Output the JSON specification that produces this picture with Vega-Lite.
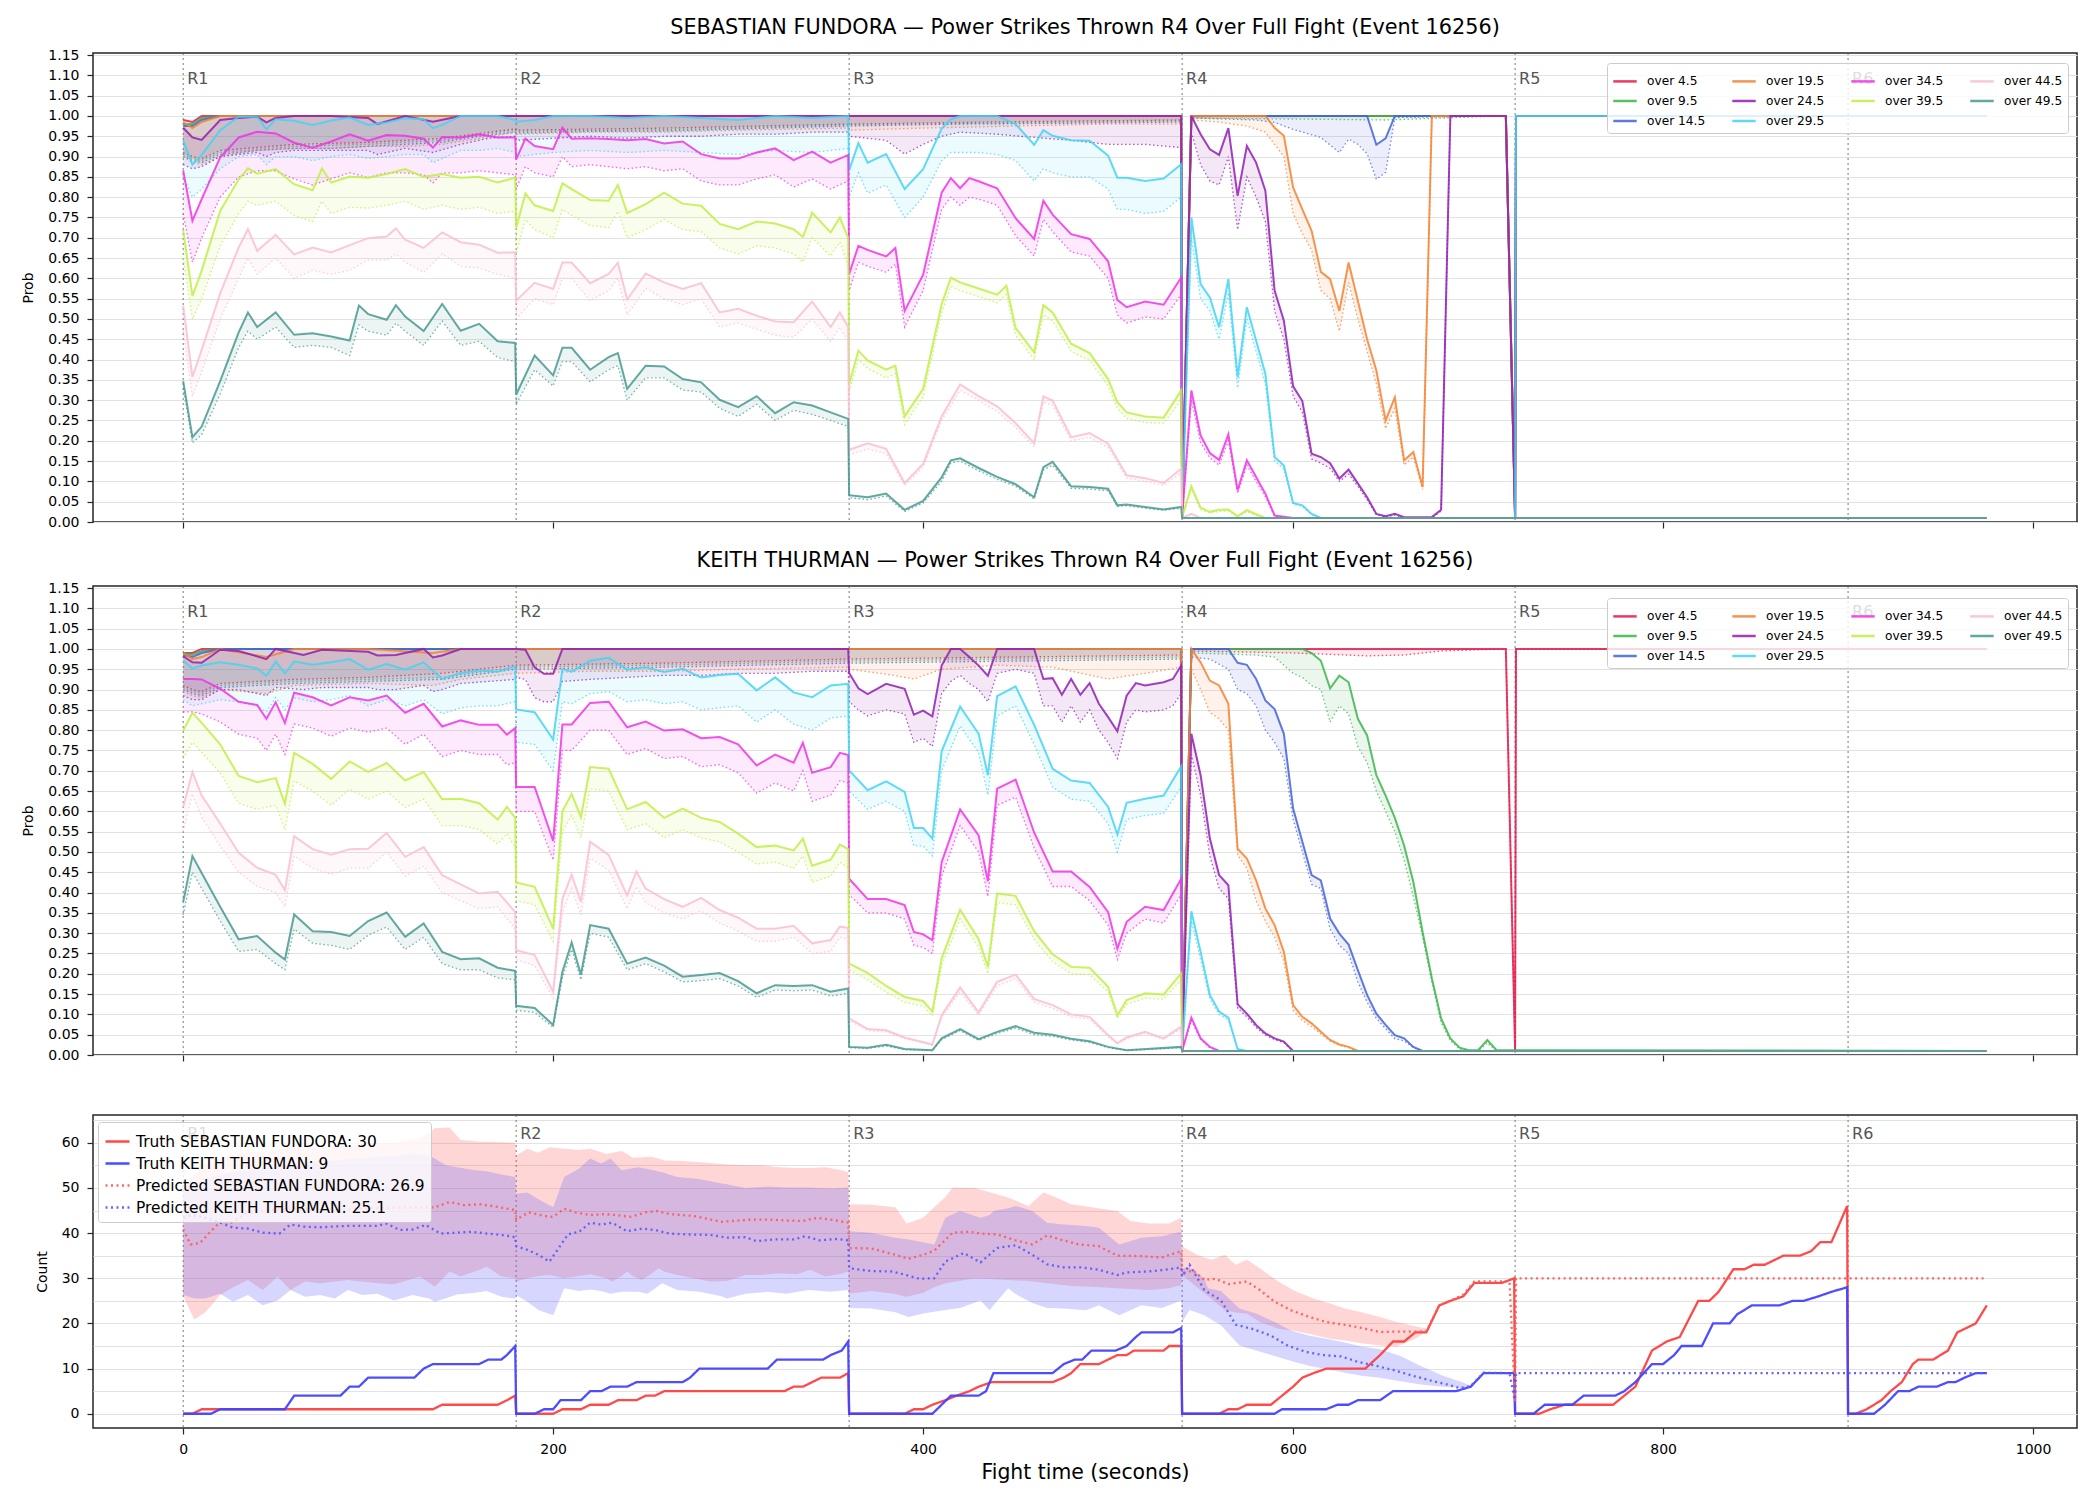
{
"$schema":"https://vega.github.io/schema/vega-lite/v6.json",
"background":"white",
"padding":{"left":21,"top":16,"right":20,"bottom":8},
"spacing":19,
"config":{"font":"DejaVu Sans","view":{"stroke":"#262626","strokeWidth":1.5},
"axis":{"labelFont":"DejaVu Sans","titleFont":"DejaVu Sans","labelFontSize":14,"titleFontSize":14,"titleFontWeight":"normal","labelColor":"#000","titleColor":"#000","tickColor":"#262626","tickSize":6,"tickWidth":1.2,"labelPadding":8,"domain":false,"gridColor":"#e2e2e2","gridWidth":1,"labelOverlap":false,"labelBound":false,"labelFlush":false},
"title":{"font":"DejaVu Sans","fontSize":20.8,"fontWeight":"normal","color":"#000","offset":9,"anchor":"middle"},
"legend":{"labelFont":"DejaVu Sans","labelLimit":600}},
"resolve":{"scale":{"color":"independent","fill":"independent","stroke":"independent","strokeDash":"independent"},"legend":{"color":"independent","fill":"independent","stroke":"independent","strokeDash":"independent"}},
"datasets":{
"rd":[{"t":0,"r":"R1"},{"t":180,"r":"R2"},{"t":360,"r":"R3"},{"t":540,"r":"R4"},{"t":720,"r":"R5"},{"t":900,"r":"R6"}],
"F":[
{"s":4.5,"t":0,"v":0.99,"d":0.91},{"s":4.5,"t":5,"v":0.985,"d":0.9},{"s":4.5,"t":10,"v":1,"d":0.895},{"s":4.5,"t":20,"v":1,"d":0.915},{"s":4.5,"t":60,"v":1,"d":0.93},{"s":4.5,"t":100,"v":1,"d":0.935},{"s":4.5,"t":140,"v":1,"d":0.945},{"s":4.5,"t":179.5,"v":1,"d":0.968},{"s":4.5,"t":180,"v":1,"d":0.965},{"s":4.5,"t":260,"v":1,"d":0.97},{"s":4.5,"t":359.5,"v":1,"d":0.98},{"s":4.5,"t":360,"v":1,"d":0.98},{"s":4.5,"t":450,"v":1,"d":0.986},{"s":4.5,"t":539.5,"v":1,"d":0.99},{"s":4.5,"t":540,"v":0.01,"d":0.01},{"s":4.5,"t":545,"v":1,"d":0.998},{"s":4.5,"t":715,"v":1,"d":1},{"s":4.5,"t":720,"v":0.01,"d":0.01},{"s":4.5,"t":720.5,"v":1,"d":1},{"s":4.5,"t":975,"v":1,"d":1},
{"s":9.5,"t":0,"v":0.98,"d":0.905},{"s":9.5,"t":5,"v":0.98,"d":0.895},{"s":9.5,"t":10,"v":0.995,"d":0.89},{"s":9.5,"t":20,"v":1,"d":0.91},{"s":9.5,"t":60,"v":1,"d":0.925},{"s":9.5,"t":100,"v":1,"d":0.93},{"s":9.5,"t":140,"v":1,"d":0.94},{"s":9.5,"t":179.5,"v":1,"d":0.965},{"s":9.5,"t":180,"v":1,"d":0.962},{"s":9.5,"t":260,"v":1,"d":0.966},{"s":9.5,"t":359.5,"v":1,"d":0.978},{"s":9.5,"t":360,"v":1,"d":0.978},{"s":9.5,"t":450,"v":1,"d":0.983},{"s":9.5,"t":539.5,"v":1,"d":0.988},{"s":9.5,"t":540,"v":0.01,"d":0.01},{"s":9.5,"t":545,"v":1,"d":0.995},{"s":9.5,"t":650,"v":1,"d":0.99},{"s":9.5,"t":715,"v":1,"d":1},{"s":9.5,"t":720,"v":0.01,"d":0.01},{"s":9.5,"t":720.5,"v":1,"d":1},{"s":9.5,"t":975,"v":1,"d":1},
{"s":14.5,"t":0,"v":0.975,"d":0.9},{"s":14.5,"t":5,"v":0.975,"d":0.89},{"s":14.5,"t":10,"v":0.99,"d":0.885},{"s":14.5,"t":20,"v":1,"d":0.905},{"s":14.5,"t":40,"v":1,"d":0.915},{"s":14.5,"t":60,"v":1,"d":0.92},{"s":14.5,"t":80,"v":1,"d":0.92},{"s":14.5,"t":100,"v":1,"d":0.925},{"s":14.5,"t":120,"v":1,"d":0.93},{"s":14.5,"t":140,"v":1,"d":0.935},{"s":14.5,"t":160,"v":1,"d":0.95},{"s":14.5,"t":179.5,"v":1,"d":0.96},{"s":14.5,"t":180,"v":1,"d":0.958},{"s":14.5,"t":220,"v":1,"d":0.962},{"s":14.5,"t":260,"v":1,"d":0.963},{"s":14.5,"t":300,"v":1,"d":0.968},{"s":14.5,"t":359.5,"v":1,"d":0.975},{"s":14.5,"t":360,"v":1,"d":0.975},{"s":14.5,"t":420,"v":1,"d":0.98},{"s":14.5,"t":480,"v":1,"d":0.982},{"s":14.5,"t":539.5,"v":1,"d":0.985},{"s":14.5,"t":540,"v":0.01,"d":0.01},{"s":14.5,"t":545,"v":1,"d":0.995},{"s":14.5,"t":580,"v":1,"d":0.99},{"s":14.5,"t":590,"v":1,"d":0.984},{"s":14.5,"t":600,"v":1,"d":0.967},{"s":14.5,"t":615,"v":1,"d":0.947},{"s":14.5,"t":625,"v":1,"d":0.91},{"s":14.5,"t":630,"v":1,"d":0.943},{"s":14.5,"t":635,"v":1,"d":0.93},{"s":14.5,"t":640,"v":1,"d":0.907},{"s":14.5,"t":645,"v":0.929,"d":0.844},{"s":14.5,"t":650,"v":0.945,"d":0.861},{"s":14.5,"t":655,"v":1,"d":0.996},{"s":14.5,"t":715,"v":1,"d":1},{"s":14.5,"t":720,"v":0.01,"d":0.01},{"s":14.5,"t":720.5,"v":1,"d":1},{"s":14.5,"t":975,"v":1,"d":1},
{"s":19.5,"t":0,"v":0.985,"d":0.9},{"s":19.5,"t":5,"v":0.97,"d":0.885},{"s":19.5,"t":10,"v":0.985,"d":0.88},{"s":19.5,"t":20,"v":1,"d":0.9},{"s":19.5,"t":40,"v":1,"d":0.915},{"s":19.5,"t":60,"v":1,"d":0.92},{"s":19.5,"t":80,"v":1,"d":0.92},{"s":19.5,"t":100,"v":1,"d":0.925},{"s":19.5,"t":120,"v":1,"d":0.925},{"s":19.5,"t":140,"v":1,"d":0.93},{"s":19.5,"t":160,"v":1,"d":0.945},{"s":19.5,"t":179.5,"v":1,"d":0.96},{"s":19.5,"t":180,"v":1,"d":0.955},{"s":19.5,"t":220,"v":1,"d":0.96},{"s":19.5,"t":260,"v":1,"d":0.96},{"s":19.5,"t":300,"v":1,"d":0.965},{"s":19.5,"t":359.5,"v":1,"d":0.97},{"s":19.5,"t":360,"v":1,"d":0.965},{"s":19.5,"t":400,"v":1,"d":0.97},{"s":19.5,"t":450,"v":1,"d":0.975},{"s":19.5,"t":500,"v":1,"d":0.98},{"s":19.5,"t":539.5,"v":1,"d":0.98},{"s":19.5,"t":540,"v":0.01,"d":0.01},{"s":19.5,"t":545,"v":1,"d":0.99},{"s":19.5,"t":560,"v":1,"d":0.985},{"s":19.5,"t":575,"v":1,"d":0.975},{"s":19.5,"t":585,"v":1,"d":0.96},{"s":19.5,"t":590,"v":0.971,"d":0.93},{"s":19.5,"t":595,"v":0.951,"d":0.9},{"s":19.5,"t":600,"v":0.824,"d":0.76},{"s":19.5,"t":605,"v":0.77,"d":0.71},{"s":19.5,"t":610,"v":0.717,"d":0.67},{"s":19.5,"t":615,"v":0.616,"d":0.57},{"s":19.5,"t":620,"v":0.598,"d":0.55},{"s":19.5,"t":625,"v":0.52,"d":0.47},{"s":19.5,"t":630,"v":0.639,"d":0.59},{"s":19.5,"t":635,"v":0.545,"d":0.5},{"s":19.5,"t":640,"v":0.45,"d":0.42},{"s":19.5,"t":645,"v":0.373,"d":0.34},{"s":19.5,"t":650,"v":0.25,"d":0.23},{"s":19.5,"t":655,"v":0.307,"d":0.28},{"s":19.5,"t":660,"v":0.152,"d":0.14},{"s":19.5,"t":665,"v":0.172,"d":0.16},{"s":19.5,"t":670,"v":0.086,"d":0.08},{"s":19.5,"t":675,"v":1,"d":1},{"s":19.5,"t":715,"v":1,"d":1},{"s":19.5,"t":720,"v":0.01,"d":0.01},{"s":19.5,"t":720.5,"v":1,"d":1},{"s":19.5,"t":975,"v":1,"d":1},
{"s":24.5,"t":0,"v":0.971,"d":0.88},{"s":24.5,"t":5,"v":0.947,"d":0.87},{"s":24.5,"t":10,"v":0.941,"d":0.875},{"s":24.5,"t":20,"v":0.99,"d":0.9},{"s":24.5,"t":30,"v":0.995,"d":0.905},{"s":24.5,"t":40,"v":0.998,"d":0.91},{"s":24.5,"t":45,"v":0.984,"d":0.9},{"s":24.5,"t":50,"v":0.995,"d":0.91},{"s":24.5,"t":60,"v":1,"d":0.915},{"s":24.5,"t":80,"v":1,"d":0.915},{"s":24.5,"t":100,"v":0.995,"d":0.915},{"s":24.5,"t":105,"v":0.98,"d":0.905},{"s":24.5,"t":120,"v":1,"d":0.92},{"s":24.5,"t":135,"v":0.986,"d":0.91},{"s":24.5,"t":150,"v":1,"d":0.93},{"s":24.5,"t":165,"v":1,"d":0.945},{"s":24.5,"t":179.5,"v":1,"d":0.95},{"s":24.5,"t":180,"v":1,"d":0.94},{"s":24.5,"t":200,"v":1,"d":0.945},{"s":24.5,"t":220,"v":1,"d":0.95},{"s":24.5,"t":240,"v":1,"d":0.945},{"s":24.5,"t":260,"v":1,"d":0.95},{"s":24.5,"t":280,"v":1,"d":0.95},{"s":24.5,"t":300,"v":1,"d":0.955},{"s":24.5,"t":320,"v":1,"d":0.955},{"s":24.5,"t":340,"v":1,"d":0.96},{"s":24.5,"t":359.5,"v":1,"d":0.96},{"s":24.5,"t":360,"v":1,"d":0.95},{"s":24.5,"t":370,"v":1,"d":0.945},{"s":24.5,"t":380,"v":1,"d":0.94},{"s":24.5,"t":390,"v":1,"d":0.906},{"s":24.5,"t":400,"v":1,"d":0.93},{"s":24.5,"t":410,"v":1,"d":0.95},{"s":24.5,"t":420,"v":1,"d":0.96},{"s":24.5,"t":440,"v":1,"d":0.955},{"s":24.5,"t":460,"v":1,"d":0.947},{"s":24.5,"t":480,"v":1,"d":0.94},{"s":24.5,"t":500,"v":1,"d":0.93},{"s":24.5,"t":520,"v":1,"d":0.93},{"s":24.5,"t":539.5,"v":1,"d":0.922},{"s":24.5,"t":540,"v":0.01,"d":0.01},{"s":24.5,"t":545,"v":1,"d":0.96},{"s":24.5,"t":550,"v":0.955,"d":0.88},{"s":24.5,"t":555,"v":0.918,"d":0.84},{"s":24.5,"t":560,"v":0.904,"d":0.83},{"s":24.5,"t":565,"v":0.97,"d":0.9},{"s":24.5,"t":570,"v":0.803,"d":0.72},{"s":24.5,"t":575,"v":0.926,"d":0.85},{"s":24.5,"t":580,"v":0.885,"d":0.8},{"s":24.5,"t":585,"v":0.816,"d":0.74},{"s":24.5,"t":590,"v":0.57,"d":0.52},{"s":24.5,"t":595,"v":0.496,"d":0.45},{"s":24.5,"t":600,"v":0.334,"d":0.31},{"s":24.5,"t":605,"v":0.298,"d":0.27},{"s":24.5,"t":610,"v":0.168,"d":0.155},{"s":24.5,"t":615,"v":0.16,"d":0.145},{"s":24.5,"t":620,"v":0.145,"d":0.132},{"s":24.5,"t":625,"v":0.107,"d":0.1},{"s":24.5,"t":630,"v":0.129,"d":0.118},{"s":24.5,"t":635,"v":0.095,"d":0.088},{"s":24.5,"t":640,"v":0.061,"d":0.055},{"s":24.5,"t":645,"v":0.02,"d":0.018},{"s":24.5,"t":650,"v":0.014,"d":0.012},{"s":24.5,"t":655,"v":0.02,"d":0.017},{"s":24.5,"t":660,"v":0.012,"d":0.01},{"s":24.5,"t":675,"v":0.012,"d":0.01},{"s":24.5,"t":680,"v":0.03,"d":0.027},{"s":24.5,"t":685,"v":1,"d":1},{"s":24.5,"t":715,"v":1,"d":1},{"s":24.5,"t":720,"v":0.01,"d":0.01},{"s":24.5,"t":720.5,"v":1,"d":1},{"s":24.5,"t":975,"v":1,"d":1},
{"s":29.5,"t":0,"v":0.94,"d":0.85},{"s":29.5,"t":5,"v":0.88,"d":0.8},{"s":29.5,"t":10,"v":0.904,"d":0.82},{"s":29.5,"t":20,"v":0.965,"d":0.87},{"s":29.5,"t":30,"v":0.998,"d":0.9},{"s":29.5,"t":40,"v":0.998,"d":0.905},{"s":29.5,"t":45,"v":0.967,"d":0.88},{"s":29.5,"t":50,"v":0.992,"d":0.9},{"s":29.5,"t":60,"v":0.988,"d":0.9},{"s":29.5,"t":70,"v":0.978,"d":0.89},{"s":29.5,"t":80,"v":0.989,"d":0.9},{"s":29.5,"t":90,"v":0.996,"d":0.905},{"s":29.5,"t":100,"v":0.978,"d":0.895},{"s":29.5,"t":110,"v":0.984,"d":0.9},{"s":29.5,"t":120,"v":0.994,"d":0.905},{"s":29.5,"t":130,"v":0.992,"d":0.905},{"s":29.5,"t":135,"v":0.97,"d":0.885},{"s":29.5,"t":140,"v":0.978,"d":0.895},{"s":29.5,"t":150,"v":1,"d":0.915},{"s":29.5,"t":160,"v":1,"d":0.915},{"s":29.5,"t":170,"v":1,"d":0.92},{"s":29.5,"t":179.5,"v":0.99,"d":0.91},{"s":29.5,"t":180,"v":0.986,"d":0.9},{"s":29.5,"t":190,"v":0.99,"d":0.905},{"s":29.5,"t":200,"v":1,"d":0.91},{"s":29.5,"t":220,"v":1,"d":0.915},{"s":29.5,"t":240,"v":0.995,"d":0.91},{"s":29.5,"t":260,"v":1,"d":0.915},{"s":29.5,"t":280,"v":0.995,"d":0.91},{"s":29.5,"t":300,"v":0.99,"d":0.905},{"s":29.5,"t":320,"v":1,"d":0.915},{"s":29.5,"t":340,"v":0.995,"d":0.91},{"s":29.5,"t":359.5,"v":1,"d":0.92},{"s":29.5,"t":360,"v":0.866,"d":0.8},{"s":29.5,"t":365,"v":0.933,"d":0.86},{"s":29.5,"t":370,"v":0.885,"d":0.81},{"s":29.5,"t":380,"v":0.906,"d":0.83},{"s":29.5,"t":390,"v":0.82,"d":0.75},{"s":29.5,"t":400,"v":0.869,"d":0.8},{"s":29.5,"t":410,"v":0.969,"d":0.89},{"s":29.5,"t":415,"v":0.992,"d":0.91},{"s":29.5,"t":420,"v":1,"d":0.91},{"s":29.5,"t":430,"v":1,"d":0.91},{"s":29.5,"t":440,"v":1,"d":0.905},{"s":29.5,"t":450,"v":0.98,"d":0.89},{"s":29.5,"t":460,"v":0.929,"d":0.84},{"s":29.5,"t":465,"v":0.965,"d":0.87},{"s":29.5,"t":470,"v":0.951,"d":0.86},{"s":29.5,"t":480,"v":0.94,"d":0.85},{"s":29.5,"t":490,"v":0.939,"d":0.85},{"s":29.5,"t":500,"v":0.902,"d":0.82},{"s":29.5,"t":505,"v":0.848,"d":0.77},{"s":29.5,"t":510,"v":0.848,"d":0.77},{"s":29.5,"t":520,"v":0.84,"d":0.76},{"s":29.5,"t":530,"v":0.846,"d":0.765},{"s":29.5,"t":539.5,"v":0.881,"d":0.8},{"s":29.5,"t":540,"v":0.01,"d":0.01},{"s":29.5,"t":545,"v":0.75,"d":0.7},{"s":29.5,"t":550,"v":0.586,"d":0.55},{"s":29.5,"t":555,"v":0.553,"d":0.52},{"s":29.5,"t":560,"v":0.48,"d":0.45},{"s":29.5,"t":565,"v":0.598,"d":0.565},{"s":29.5,"t":570,"v":0.357,"d":0.33},{"s":29.5,"t":575,"v":0.529,"d":0.5},{"s":29.5,"t":580,"v":0.447,"d":0.42},{"s":29.5,"t":585,"v":0.365,"d":0.34},{"s":29.5,"t":590,"v":0.16,"d":0.15},{"s":29.5,"t":595,"v":0.139,"d":0.13},{"s":29.5,"t":600,"v":0.047,"d":0.044},{"s":29.5,"t":605,"v":0.041,"d":0.038},{"s":29.5,"t":610,"v":0.02,"d":0.018},{"s":29.5,"t":615,"v":0.01,"d":0.01},{"s":29.5,"t":720,"v":0.01,"d":0.01},{"s":29.5,"t":720.5,"v":1,"d":1},{"s":29.5,"t":975,"v":1,"d":1},
{"s":34.5,"t":0,"v":0.866,"d":0.76},{"s":34.5,"t":5,"v":0.742,"d":0.64},{"s":34.5,"t":10,"v":0.795,"d":0.7},{"s":34.5,"t":20,"v":0.898,"d":0.8},{"s":34.5,"t":30,"v":0.947,"d":0.85},{"s":34.5,"t":40,"v":0.961,"d":0.865},{"s":34.5,"t":50,"v":0.957,"d":0.865},{"s":34.5,"t":60,"v":0.934,"d":0.845},{"s":34.5,"t":70,"v":0.922,"d":0.83},{"s":34.5,"t":80,"v":0.937,"d":0.845},{"s":34.5,"t":90,"v":0.955,"d":0.86},{"s":34.5,"t":100,"v":0.939,"d":0.848},{"s":34.5,"t":110,"v":0.953,"d":0.86},{"s":34.5,"t":120,"v":0.951,"d":0.86},{"s":34.5,"t":130,"v":0.944,"d":0.855},{"s":34.5,"t":135,"v":0.922,"d":0.835},{"s":34.5,"t":140,"v":0.948,"d":0.86},{"s":34.5,"t":150,"v":0.947,"d":0.86},{"s":34.5,"t":160,"v":0.955,"d":0.865},{"s":34.5,"t":170,"v":0.947,"d":0.86},{"s":34.5,"t":179.5,"v":0.947,"d":0.855},{"s":34.5,"t":180,"v":0.893,"d":0.82},{"s":34.5,"t":185,"v":0.944,"d":0.875},{"s":34.5,"t":190,"v":0.926,"d":0.86},{"s":34.5,"t":200,"v":0.918,"d":0.85},{"s":34.5,"t":205,"v":0.971,"d":0.9},{"s":34.5,"t":210,"v":0.944,"d":0.875},{"s":34.5,"t":220,"v":0.945,"d":0.88},{"s":34.5,"t":230,"v":0.943,"d":0.875},{"s":34.5,"t":240,"v":0.94,"d":0.87},{"s":34.5,"t":250,"v":0.943,"d":0.875},{"s":34.5,"t":260,"v":0.932,"d":0.865},{"s":34.5,"t":270,"v":0.937,"d":0.87},{"s":34.5,"t":280,"v":0.906,"d":0.84},{"s":34.5,"t":290,"v":0.895,"d":0.83},{"s":34.5,"t":300,"v":0.895,"d":0.83},{"s":34.5,"t":310,"v":0.91,"d":0.845},{"s":34.5,"t":320,"v":0.92,"d":0.855},{"s":34.5,"t":330,"v":0.891,"d":0.825},{"s":34.5,"t":340,"v":0.912,"d":0.845},{"s":34.5,"t":350,"v":0.885,"d":0.82},{"s":34.5,"t":359.5,"v":0.904,"d":0.84},{"s":34.5,"t":360,"v":0.611,"d":0.57},{"s":34.5,"t":365,"v":0.68,"d":0.64},{"s":34.5,"t":370,"v":0.67,"d":0.63},{"s":34.5,"t":380,"v":0.654,"d":0.615},{"s":34.5,"t":385,"v":0.675,"d":0.635},{"s":34.5,"t":390,"v":0.52,"d":0.48},{"s":34.5,"t":400,"v":0.609,"d":0.57},{"s":34.5,"t":410,"v":0.811,"d":0.77},{"s":34.5,"t":415,"v":0.847,"d":0.8},{"s":34.5,"t":420,"v":0.822,"d":0.78},{"s":34.5,"t":425,"v":0.847,"d":0.8},{"s":34.5,"t":430,"v":0.839,"d":0.795},{"s":34.5,"t":440,"v":0.822,"d":0.78},{"s":34.5,"t":450,"v":0.748,"d":0.705},{"s":34.5,"t":460,"v":0.697,"d":0.655},{"s":34.5,"t":465,"v":0.791,"d":0.745},{"s":34.5,"t":470,"v":0.757,"d":0.715},{"s":34.5,"t":480,"v":0.709,"d":0.665},{"s":34.5,"t":490,"v":0.697,"d":0.655},{"s":34.5,"t":500,"v":0.642,"d":0.6},{"s":34.5,"t":505,"v":0.547,"d":0.51},{"s":34.5,"t":510,"v":0.529,"d":0.49},{"s":34.5,"t":520,"v":0.543,"d":0.505},{"s":34.5,"t":530,"v":0.535,"d":0.5},{"s":34.5,"t":539.5,"v":0.602,"d":0.56},{"s":34.5,"t":540,"v":0.01,"d":0.01},{"s":34.5,"t":545,"v":0.324,"d":0.3},{"s":34.5,"t":550,"v":0.213,"d":0.195},{"s":34.5,"t":555,"v":0.17,"d":0.158},{"s":34.5,"t":560,"v":0.153,"d":0.14},{"s":34.5,"t":565,"v":0.216,"d":0.2},{"s":34.5,"t":570,"v":0.078,"d":0.07},{"s":34.5,"t":575,"v":0.152,"d":0.14},{"s":34.5,"t":580,"v":0.111,"d":0.1},{"s":34.5,"t":585,"v":0.07,"d":0.062},{"s":34.5,"t":590,"v":0.016,"d":0.014},{"s":34.5,"t":600,"v":0.01,"d":0.01},{"s":34.5,"t":975,"v":0.01,"d":0.01},
{"s":39.5,"t":0,"v":0.72,"d":0.65},{"s":39.5,"t":5,"v":0.557,"d":0.5},{"s":39.5,"t":10,"v":0.619,"d":0.55},{"s":39.5,"t":20,"v":0.766,"d":0.68},{"s":39.5,"t":30,"v":0.844,"d":0.76},{"s":39.5,"t":35,"v":0.871,"d":0.79},{"s":39.5,"t":40,"v":0.858,"d":0.78},{"s":39.5,"t":50,"v":0.869,"d":0.79},{"s":39.5,"t":60,"v":0.832,"d":0.755},{"s":39.5,"t":70,"v":0.817,"d":0.74},{"s":39.5,"t":75,"v":0.871,"d":0.79},{"s":39.5,"t":80,"v":0.836,"d":0.76},{"s":39.5,"t":90,"v":0.851,"d":0.775},{"s":39.5,"t":100,"v":0.848,"d":0.773},{"s":39.5,"t":110,"v":0.857,"d":0.78},{"s":39.5,"t":120,"v":0.869,"d":0.79},{"s":39.5,"t":130,"v":0.85,"d":0.77},{"s":39.5,"t":140,"v":0.857,"d":0.78},{"s":39.5,"t":150,"v":0.848,"d":0.77},{"s":39.5,"t":160,"v":0.85,"d":0.775},{"s":39.5,"t":170,"v":0.836,"d":0.76},{"s":39.5,"t":179.5,"v":0.848,"d":0.765},{"s":39.5,"t":180,"v":0.725,"d":0.66},{"s":39.5,"t":185,"v":0.809,"d":0.745},{"s":39.5,"t":190,"v":0.78,"d":0.72},{"s":39.5,"t":200,"v":0.766,"d":0.7},{"s":39.5,"t":205,"v":0.834,"d":0.77},{"s":39.5,"t":210,"v":0.82,"d":0.755},{"s":39.5,"t":220,"v":0.793,"d":0.73},{"s":39.5,"t":230,"v":0.791,"d":0.725},{"s":39.5,"t":235,"v":0.83,"d":0.765},{"s":39.5,"t":240,"v":0.761,"d":0.7},{"s":39.5,"t":250,"v":0.783,"d":0.72},{"s":39.5,"t":260,"v":0.811,"d":0.745},{"s":39.5,"t":270,"v":0.784,"d":0.72},{"s":39.5,"t":280,"v":0.779,"d":0.715},{"s":39.5,"t":290,"v":0.734,"d":0.675},{"s":39.5,"t":300,"v":0.721,"d":0.66},{"s":39.5,"t":310,"v":0.74,"d":0.68},{"s":39.5,"t":320,"v":0.735,"d":0.675},{"s":39.5,"t":330,"v":0.721,"d":0.66},{"s":39.5,"t":335,"v":0.702,"d":0.64},{"s":39.5,"t":340,"v":0.762,"d":0.7},{"s":39.5,"t":350,"v":0.713,"d":0.655},{"s":39.5,"t":355,"v":0.75,"d":0.69},{"s":39.5,"t":359.5,"v":0.699,"d":0.63},{"s":39.5,"t":360,"v":0.34,"d":0.32},{"s":39.5,"t":365,"v":0.422,"d":0.4},{"s":39.5,"t":370,"v":0.398,"d":0.378},{"s":39.5,"t":380,"v":0.375,"d":0.355},{"s":39.5,"t":385,"v":0.385,"d":0.365},{"s":39.5,"t":390,"v":0.26,"d":0.24},{"s":39.5,"t":400,"v":0.328,"d":0.308},{"s":39.5,"t":410,"v":0.537,"d":0.515},{"s":39.5,"t":415,"v":0.602,"d":0.58},{"s":39.5,"t":420,"v":0.59,"d":0.57},{"s":39.5,"t":430,"v":0.575,"d":0.555},{"s":39.5,"t":440,"v":0.56,"d":0.54},{"s":39.5,"t":445,"v":0.582,"d":0.56},{"s":39.5,"t":450,"v":0.478,"d":0.46},{"s":39.5,"t":460,"v":0.418,"d":0.4},{"s":39.5,"t":465,"v":0.534,"d":0.51},{"s":39.5,"t":470,"v":0.516,"d":0.495},{"s":39.5,"t":480,"v":0.439,"d":0.42},{"s":39.5,"t":490,"v":0.416,"d":0.398},{"s":39.5,"t":500,"v":0.352,"d":0.335},{"s":39.5,"t":505,"v":0.295,"d":0.28},{"s":39.5,"t":510,"v":0.27,"d":0.255},{"s":39.5,"t":520,"v":0.26,"d":0.245},{"s":39.5,"t":530,"v":0.257,"d":0.243},{"s":39.5,"t":539.5,"v":0.324,"d":0.3},{"s":39.5,"t":540,"v":0.012,"d":0.01},{"s":39.5,"t":545,"v":0.088,"d":0.08},{"s":39.5,"t":550,"v":0.035,"d":0.03},{"s":39.5,"t":555,"v":0.025,"d":0.022},{"s":39.5,"t":560,"v":0.03,"d":0.026},{"s":39.5,"t":565,"v":0.031,"d":0.027},{"s":39.5,"t":570,"v":0.014,"d":0.012},{"s":39.5,"t":575,"v":0.029,"d":0.025},{"s":39.5,"t":580,"v":0.019,"d":0.016},{"s":39.5,"t":585,"v":0.01,"d":0.01},{"s":39.5,"t":975,"v":0.01,"d":0.01},
{"s":44.5,"t":0,"v":0.533,"d":0.47},{"s":44.5,"t":5,"v":0.357,"d":0.31},{"s":44.5,"t":10,"v":0.424,"d":0.37},{"s":44.5,"t":20,"v":0.563,"d":0.5},{"s":44.5,"t":30,"v":0.676,"d":0.6},{"s":44.5,"t":35,"v":0.721,"d":0.65},{"s":44.5,"t":40,"v":0.668,"d":0.61},{"s":44.5,"t":50,"v":0.707,"d":0.65},{"s":44.5,"t":60,"v":0.659,"d":0.6},{"s":44.5,"t":70,"v":0.676,"d":0.62},{"s":44.5,"t":80,"v":0.664,"d":0.61},{"s":44.5,"t":90,"v":0.682,"d":0.62},{"s":44.5,"t":100,"v":0.699,"d":0.645},{"s":44.5,"t":110,"v":0.703,"d":0.645},{"s":44.5,"t":115,"v":0.723,"d":0.66},{"s":44.5,"t":120,"v":0.695,"d":0.64},{"s":44.5,"t":130,"v":0.675,"d":0.615},{"s":44.5,"t":140,"v":0.713,"d":0.66},{"s":44.5,"t":150,"v":0.689,"d":0.63},{"s":44.5,"t":160,"v":0.683,"d":0.625},{"s":44.5,"t":170,"v":0.663,"d":0.61},{"s":44.5,"t":179.5,"v":0.664,"d":0.6},{"s":44.5,"t":180,"v":0.545,"d":0.5},{"s":44.5,"t":190,"v":0.589,"d":0.55},{"s":44.5,"t":200,"v":0.574,"d":0.535},{"s":44.5,"t":205,"v":0.639,"d":0.6},{"s":44.5,"t":210,"v":0.639,"d":0.6},{"s":44.5,"t":220,"v":0.588,"d":0.545},{"s":44.5,"t":230,"v":0.611,"d":0.57},{"s":44.5,"t":235,"v":0.638,"d":0.6},{"s":44.5,"t":240,"v":0.548,"d":0.51},{"s":44.5,"t":250,"v":0.612,"d":0.575},{"s":44.5,"t":260,"v":0.59,"d":0.55},{"s":44.5,"t":270,"v":0.574,"d":0.535},{"s":44.5,"t":280,"v":0.588,"d":0.55},{"s":44.5,"t":290,"v":0.516,"d":0.48},{"s":44.5,"t":300,"v":0.525,"d":0.49},{"s":44.5,"t":310,"v":0.508,"d":0.475},{"s":44.5,"t":320,"v":0.494,"d":0.46},{"s":44.5,"t":330,"v":0.492,"d":0.455},{"s":44.5,"t":340,"v":0.543,"d":0.5},{"s":44.5,"t":350,"v":0.48,"d":0.445},{"s":44.5,"t":355,"v":0.516,"d":0.48},{"s":44.5,"t":359.5,"v":0.48,"d":0.445},{"s":44.5,"t":360,"v":0.178,"d":0.165},{"s":44.5,"t":370,"v":0.194,"d":0.18},{"s":44.5,"t":380,"v":0.18,"d":0.168},{"s":44.5,"t":390,"v":0.096,"d":0.09},{"s":44.5,"t":400,"v":0.143,"d":0.135},{"s":44.5,"t":410,"v":0.26,"d":0.25},{"s":44.5,"t":420,"v":0.339,"d":0.325},{"s":44.5,"t":430,"v":0.31,"d":0.3},{"s":44.5,"t":440,"v":0.285,"d":0.272},{"s":44.5,"t":450,"v":0.243,"d":0.232},{"s":44.5,"t":460,"v":0.194,"d":0.185},{"s":44.5,"t":465,"v":0.309,"d":0.295},{"s":44.5,"t":470,"v":0.299,"d":0.287},{"s":44.5,"t":480,"v":0.209,"d":0.2},{"s":44.5,"t":490,"v":0.219,"d":0.208},{"s":44.5,"t":500,"v":0.193,"d":0.183},{"s":44.5,"t":510,"v":0.115,"d":0.108},{"s":44.5,"t":520,"v":0.108,"d":0.1},{"s":44.5,"t":530,"v":0.096,"d":0.09},{"s":44.5,"t":539.5,"v":0.131,"d":0.12},{"s":44.5,"t":540,"v":0.01,"d":0.01},{"s":44.5,"t":545,"v":0.02,"d":0.018},{"s":44.5,"t":550,"v":0.01,"d":0.01},{"s":44.5,"t":975,"v":0.01,"d":0.01},
{"s":49.5,"t":0,"v":0.347,"d":0.33},{"s":49.5,"t":5,"v":0.209,"d":0.195},{"s":49.5,"t":10,"v":0.235,"d":0.215},{"s":49.5,"t":20,"v":0.347,"d":0.315},{"s":49.5,"t":30,"v":0.467,"d":0.43},{"s":49.5,"t":35,"v":0.516,"d":0.47},{"s":49.5,"t":40,"v":0.48,"d":0.45},{"s":49.5,"t":50,"v":0.516,"d":0.48},{"s":49.5,"t":60,"v":0.461,"d":0.43},{"s":49.5,"t":70,"v":0.465,"d":0.435},{"s":49.5,"t":80,"v":0.457,"d":0.43},{"s":49.5,"t":90,"v":0.447,"d":0.41},{"s":49.5,"t":95,"v":0.533,"d":0.485},{"s":49.5,"t":100,"v":0.512,"d":0.47},{"s":49.5,"t":110,"v":0.498,"d":0.46},{"s":49.5,"t":115,"v":0.534,"d":0.49},{"s":49.5,"t":120,"v":0.506,"d":0.47},{"s":49.5,"t":130,"v":0.47,"d":0.435},{"s":49.5,"t":140,"v":0.537,"d":0.495},{"s":49.5,"t":150,"v":0.471,"d":0.435},{"s":49.5,"t":160,"v":0.488,"d":0.445},{"s":49.5,"t":170,"v":0.445,"d":0.405},{"s":49.5,"t":179.5,"v":0.441,"d":0.395},{"s":49.5,"t":180,"v":0.314,"d":0.29},{"s":49.5,"t":190,"v":0.41,"d":0.375},{"s":49.5,"t":200,"v":0.361,"d":0.335},{"s":49.5,"t":205,"v":0.429,"d":0.395},{"s":49.5,"t":210,"v":0.429,"d":0.395},{"s":49.5,"t":220,"v":0.375,"d":0.345},{"s":49.5,"t":230,"v":0.406,"d":0.375},{"s":49.5,"t":235,"v":0.416,"d":0.385},{"s":49.5,"t":240,"v":0.328,"d":0.3},{"s":49.5,"t":250,"v":0.385,"d":0.355},{"s":49.5,"t":260,"v":0.383,"d":0.355},{"s":49.5,"t":270,"v":0.352,"d":0.325},{"s":49.5,"t":280,"v":0.344,"d":0.32},{"s":49.5,"t":290,"v":0.301,"d":0.28},{"s":49.5,"t":300,"v":0.283,"d":0.26},{"s":49.5,"t":310,"v":0.31,"d":0.29},{"s":49.5,"t":320,"v":0.268,"d":0.25},{"s":49.5,"t":330,"v":0.295,"d":0.275},{"s":49.5,"t":340,"v":0.287,"d":0.265},{"s":49.5,"t":350,"v":0.27,"d":0.25},{"s":49.5,"t":359.5,"v":0.254,"d":0.235},{"s":49.5,"t":360,"v":0.066,"d":0.06},{"s":49.5,"t":370,"v":0.061,"d":0.055},{"s":49.5,"t":380,"v":0.07,"d":0.064},{"s":49.5,"t":390,"v":0.03,"d":0.026},{"s":49.5,"t":400,"v":0.052,"d":0.047},{"s":49.5,"t":410,"v":0.11,"d":0.1},{"s":49.5,"t":415,"v":0.152,"d":0.145},{"s":49.5,"t":420,"v":0.157,"d":0.15},{"s":49.5,"t":430,"v":0.133,"d":0.126},{"s":49.5,"t":440,"v":0.111,"d":0.105},{"s":49.5,"t":450,"v":0.093,"d":0.088},{"s":49.5,"t":460,"v":0.061,"d":0.057},{"s":49.5,"t":465,"v":0.135,"d":0.128},{"s":49.5,"t":470,"v":0.148,"d":0.14},{"s":49.5,"t":480,"v":0.088,"d":0.083},{"s":49.5,"t":490,"v":0.086,"d":0.081},{"s":49.5,"t":500,"v":0.082,"d":0.077},{"s":49.5,"t":505,"v":0.041,"d":0.038},{"s":49.5,"t":510,"v":0.043,"d":0.04},{"s":49.5,"t":520,"v":0.037,"d":0.034},{"s":49.5,"t":530,"v":0.031,"d":0.029},{"s":49.5,"t":539.5,"v":0.037,"d":0.034},{"s":49.5,"t":540,"v":0.01,"d":0.01},{"s":49.5,"t":975,"v":0.01,"d":0.01}
],
"K":[
{"s":4.5,"t":0,"v":0.99,"d":0.91},{"s":4.5,"t":5,"v":0.99,"d":0.9},{"s":4.5,"t":10,"v":1,"d":0.895},{"s":4.5,"t":20,"v":1,"d":0.915},{"s":4.5,"t":60,"v":1,"d":0.925},{"s":4.5,"t":100,"v":1,"d":0.93},{"s":4.5,"t":140,"v":1,"d":0.94},{"s":4.5,"t":179.5,"v":1,"d":0.96},{"s":4.5,"t":180,"v":1,"d":0.96},{"s":4.5,"t":260,"v":1,"d":0.965},{"s":4.5,"t":359.5,"v":1,"d":0.975},{"s":4.5,"t":360,"v":1,"d":0.975},{"s":4.5,"t":450,"v":1,"d":0.98},{"s":4.5,"t":539.5,"v":1,"d":0.985},{"s":4.5,"t":540,"v":0.01,"d":0.01},{"s":4.5,"t":545,"v":1,"d":0.995},{"s":4.5,"t":600,"v":1,"d":0.99},{"s":4.5,"t":640,"v":1,"d":0.983},{"s":4.5,"t":660,"v":1,"d":0.985},{"s":4.5,"t":680,"v":1,"d":0.995},{"s":4.5,"t":715,"v":1,"d":1},{"s":4.5,"t":720,"v":0.01,"d":0.01},{"s":4.5,"t":720.5,"v":1,"d":1},{"s":4.5,"t":975,"v":1,"d":1},
{"s":9.5,"t":0,"v":0.99,"d":0.905},{"s":9.5,"t":5,"v":0.985,"d":0.895},{"s":9.5,"t":10,"v":0.995,"d":0.89},{"s":9.5,"t":20,"v":1,"d":0.91},{"s":9.5,"t":60,"v":1,"d":0.92},{"s":9.5,"t":100,"v":1,"d":0.925},{"s":9.5,"t":140,"v":1,"d":0.93},{"s":9.5,"t":179.5,"v":1,"d":0.955},{"s":9.5,"t":180,"v":1,"d":0.955},{"s":9.5,"t":260,"v":1,"d":0.96},{"s":9.5,"t":359.5,"v":1,"d":0.97},{"s":9.5,"t":360,"v":1,"d":0.97},{"s":9.5,"t":450,"v":1,"d":0.975},{"s":9.5,"t":539.5,"v":1,"d":0.98},{"s":9.5,"t":540,"v":0.01,"d":0.01},{"s":9.5,"t":545,"v":1,"d":0.99},{"s":9.5,"t":580,"v":1,"d":0.985},{"s":9.5,"t":590,"v":1,"d":0.98},{"s":9.5,"t":600,"v":1,"d":0.94},{"s":9.5,"t":605,"v":1,"d":0.93},{"s":9.5,"t":610,"v":0.99,"d":0.91},{"s":9.5,"t":615,"v":0.971,"d":0.9},{"s":9.5,"t":620,"v":0.903,"d":0.82},{"s":9.5,"t":625,"v":0.934,"d":0.86},{"s":9.5,"t":630,"v":0.918,"d":0.84},{"s":9.5,"t":635,"v":0.828,"d":0.76},{"s":9.5,"t":640,"v":0.787,"d":0.72},{"s":9.5,"t":645,"v":0.689,"d":0.65},{"s":9.5,"t":650,"v":0.639,"d":0.6},{"s":9.5,"t":655,"v":0.584,"d":0.55},{"s":9.5,"t":660,"v":0.516,"d":0.48},{"s":9.5,"t":665,"v":0.426,"d":0.39},{"s":9.5,"t":670,"v":0.303,"d":0.29},{"s":9.5,"t":675,"v":0.189,"d":0.18},{"s":9.5,"t":680,"v":0.09,"d":0.08},{"s":9.5,"t":685,"v":0.041,"d":0.035},{"s":9.5,"t":690,"v":0.018,"d":0.015},{"s":9.5,"t":695,"v":0.012,"d":0.01},{"s":9.5,"t":700,"v":0.012,"d":0.01},{"s":9.5,"t":705,"v":0.037,"d":0.03},{"s":9.5,"t":710,"v":0.012,"d":0.01},{"s":9.5,"t":975,"v":0.01,"d":0.01},
{"s":14.5,"t":0,"v":0.985,"d":0.9},{"s":14.5,"t":5,"v":0.98,"d":0.89},{"s":14.5,"t":10,"v":0.99,"d":0.885},{"s":14.5,"t":20,"v":1,"d":0.905},{"s":14.5,"t":60,"v":1,"d":0.915},{"s":14.5,"t":100,"v":1,"d":0.92},{"s":14.5,"t":140,"v":1,"d":0.925},{"s":14.5,"t":179.5,"v":1,"d":0.95},{"s":14.5,"t":180,"v":1,"d":0.95},{"s":14.5,"t":260,"v":1,"d":0.955},{"s":14.5,"t":359.5,"v":1,"d":0.965},{"s":14.5,"t":360,"v":1,"d":0.965},{"s":14.5,"t":450,"v":1,"d":0.97},{"s":14.5,"t":539.5,"v":1,"d":0.975},{"s":14.5,"t":540,"v":0.01,"d":0.01},{"s":14.5,"t":545,"v":1,"d":0.98},{"s":14.5,"t":555,"v":1,"d":0.975},{"s":14.5,"t":565,"v":1,"d":0.95},{"s":14.5,"t":570,"v":0.966,"d":0.9},{"s":14.5,"t":575,"v":0.961,"d":0.89},{"s":14.5,"t":580,"v":0.926,"d":0.86},{"s":14.5,"t":585,"v":0.873,"d":0.8},{"s":14.5,"t":590,"v":0.852,"d":0.77},{"s":14.5,"t":595,"v":0.791,"d":0.73},{"s":14.5,"t":600,"v":0.607,"d":0.58},{"s":14.5,"t":605,"v":0.525,"d":0.5},{"s":14.5,"t":610,"v":0.443,"d":0.42},{"s":14.5,"t":615,"v":0.43,"d":0.41},{"s":14.5,"t":620,"v":0.336,"d":0.31},{"s":14.5,"t":625,"v":0.299,"d":0.27},{"s":14.5,"t":630,"v":0.272,"d":0.25},{"s":14.5,"t":635,"v":0.209,"d":0.18},{"s":14.5,"t":640,"v":0.148,"d":0.13},{"s":14.5,"t":645,"v":0.102,"d":0.09},{"s":14.5,"t":650,"v":0.074,"d":0.065},{"s":14.5,"t":655,"v":0.049,"d":0.04},{"s":14.5,"t":660,"v":0.041,"d":0.035},{"s":14.5,"t":665,"v":0.02,"d":0.018},{"s":14.5,"t":670,"v":0.01,"d":0.01},{"s":14.5,"t":975,"v":0.01,"d":0.01},
{"s":19.5,"t":0,"v":0.99,"d":0.895},{"s":19.5,"t":5,"v":0.975,"d":0.885},{"s":19.5,"t":10,"v":0.98,"d":0.88},{"s":19.5,"t":20,"v":1,"d":0.9},{"s":19.5,"t":45,"v":0.98,"d":0.89},{"s":19.5,"t":60,"v":1,"d":0.91},{"s":19.5,"t":100,"v":1,"d":0.915},{"s":19.5,"t":135,"v":0.99,"d":0.91},{"s":19.5,"t":150,"v":1,"d":0.925},{"s":19.5,"t":179.5,"v":1,"d":0.94},{"s":19.5,"t":180,"v":1,"d":0.94},{"s":19.5,"t":220,"v":1,"d":0.945},{"s":19.5,"t":260,"v":1,"d":0.945},{"s":19.5,"t":300,"v":1,"d":0.95},{"s":19.5,"t":359.5,"v":1,"d":0.955},{"s":19.5,"t":360,"v":1,"d":0.95},{"s":19.5,"t":380,"v":1,"d":0.938},{"s":19.5,"t":395,"v":1,"d":0.926},{"s":19.5,"t":410,"v":1,"d":0.95},{"s":19.5,"t":440,"v":1,"d":0.96},{"s":19.5,"t":470,"v":1,"d":0.955},{"s":19.5,"t":500,"v":1,"d":0.926},{"s":19.5,"t":520,"v":1,"d":0.94},{"s":19.5,"t":539.5,"v":1,"d":0.955},{"s":19.5,"t":540,"v":0.01,"d":0.01},{"s":19.5,"t":545,"v":1,"d":0.951},{"s":19.5,"t":550,"v":0.967,"d":0.9},{"s":19.5,"t":555,"v":0.922,"d":0.844},{"s":19.5,"t":560,"v":0.91,"d":0.828},{"s":19.5,"t":565,"v":0.865,"d":0.8},{"s":19.5,"t":570,"v":0.508,"d":0.492},{"s":19.5,"t":575,"v":0.484,"d":0.46},{"s":19.5,"t":580,"v":0.43,"d":0.38},{"s":19.5,"t":585,"v":0.361,"d":0.33},{"s":19.5,"t":590,"v":0.32,"d":0.29},{"s":19.5,"t":595,"v":0.254,"d":0.23},{"s":19.5,"t":600,"v":0.123,"d":0.11},{"s":19.5,"t":605,"v":0.094,"d":0.085},{"s":19.5,"t":610,"v":0.078,"d":0.07},{"s":19.5,"t":615,"v":0.057,"d":0.052},{"s":19.5,"t":620,"v":0.037,"d":0.034},{"s":19.5,"t":625,"v":0.026,"d":0.024},{"s":19.5,"t":630,"v":0.02,"d":0.018},{"s":19.5,"t":635,"v":0.01,"d":0.01},{"s":19.5,"t":975,"v":0.01,"d":0.01},
{"s":24.5,"t":0,"v":0.982,"d":0.885},{"s":24.5,"t":5,"v":0.967,"d":0.875},{"s":24.5,"t":10,"v":0.966,"d":0.875},{"s":24.5,"t":20,"v":0.998,"d":0.9},{"s":24.5,"t":30,"v":0.995,"d":0.9},{"s":24.5,"t":45,"v":0.975,"d":0.885},{"s":24.5,"t":50,"v":1,"d":0.905},{"s":24.5,"t":65,"v":0.985,"d":0.9},{"s":24.5,"t":75,"v":0.998,"d":0.905},{"s":24.5,"t":100,"v":0.993,"d":0.905},{"s":24.5,"t":105,"v":0.984,"d":0.9},{"s":24.5,"t":115,"v":0.985,"d":0.9},{"s":24.5,"t":130,"v":1,"d":0.91},{"s":24.5,"t":135,"v":0.979,"d":0.895},{"s":24.5,"t":140,"v":0.984,"d":0.9},{"s":24.5,"t":150,"v":1,"d":0.915},{"s":24.5,"t":165,"v":1,"d":0.92},{"s":24.5,"t":179.5,"v":1,"d":0.925},{"s":24.5,"t":180,"v":1,"d":0.93},{"s":24.5,"t":185,"v":0.998,"d":0.925},{"s":24.5,"t":190,"v":0.955,"d":0.88},{"s":24.5,"t":195,"v":0.939,"d":0.87},{"s":24.5,"t":200,"v":0.939,"d":0.87},{"s":24.5,"t":205,"v":1,"d":0.92},{"s":24.5,"t":220,"v":1,"d":0.925},{"s":24.5,"t":240,"v":1,"d":0.93},{"s":24.5,"t":260,"v":1,"d":0.935},{"s":24.5,"t":280,"v":1,"d":0.935},{"s":24.5,"t":300,"v":1,"d":0.94},{"s":24.5,"t":320,"v":1,"d":0.94},{"s":24.5,"t":340,"v":1,"d":0.945},{"s":24.5,"t":359.5,"v":1,"d":0.945},{"s":24.5,"t":360,"v":0.941,"d":0.87},{"s":24.5,"t":365,"v":0.903,"d":0.85},{"s":24.5,"t":370,"v":0.889,"d":0.835},{"s":24.5,"t":380,"v":0.914,"d":0.85},{"s":24.5,"t":390,"v":0.902,"d":0.84},{"s":24.5,"t":395,"v":0.838,"d":0.77},{"s":24.5,"t":400,"v":0.848,"d":0.78},{"s":24.5,"t":405,"v":0.834,"d":0.76},{"s":24.5,"t":410,"v":0.959,"d":0.89},{"s":24.5,"t":415,"v":1,"d":0.92},{"s":24.5,"t":420,"v":1,"d":0.935},{"s":24.5,"t":425,"v":0.98,"d":0.915},{"s":24.5,"t":430,"v":0.959,"d":0.9},{"s":24.5,"t":435,"v":0.934,"d":0.87},{"s":24.5,"t":440,"v":1,"d":0.94},{"s":24.5,"t":450,"v":1,"d":0.95},{"s":24.5,"t":460,"v":1,"d":0.94},{"s":24.5,"t":465,"v":0.926,"d":0.86},{"s":24.5,"t":470,"v":0.928,"d":0.86},{"s":24.5,"t":475,"v":0.887,"d":0.82},{"s":24.5,"t":480,"v":0.926,"d":0.86},{"s":24.5,"t":485,"v":0.887,"d":0.82},{"s":24.5,"t":490,"v":0.916,"d":0.85},{"s":24.5,"t":495,"v":0.865,"d":0.8},{"s":24.5,"t":500,"v":0.832,"d":0.77},{"s":24.5,"t":505,"v":0.797,"d":0.73},{"s":24.5,"t":510,"v":0.885,"d":0.82},{"s":24.5,"t":515,"v":0.916,"d":0.85},{"s":24.5,"t":520,"v":0.91,"d":0.845},{"s":24.5,"t":530,"v":0.918,"d":0.85},{"s":24.5,"t":535,"v":0.926,"d":0.86},{"s":24.5,"t":539.5,"v":0.959,"d":0.89},{"s":24.5,"t":540,"v":0.01,"d":0.01},{"s":24.5,"t":545,"v":0.791,"d":0.74},{"s":24.5,"t":550,"v":0.689,"d":0.64},{"s":24.5,"t":555,"v":0.533,"d":0.49},{"s":24.5,"t":560,"v":0.443,"d":0.41},{"s":24.5,"t":565,"v":0.418,"d":0.385},{"s":24.5,"t":570,"v":0.125,"d":0.115},{"s":24.5,"t":575,"v":0.102,"d":0.094},{"s":24.5,"t":580,"v":0.074,"d":0.068},{"s":24.5,"t":585,"v":0.053,"d":0.049},{"s":24.5,"t":590,"v":0.041,"d":0.038},{"s":24.5,"t":595,"v":0.033,"d":0.03},{"s":24.5,"t":600,"v":0.01,"d":0.01},{"s":24.5,"t":975,"v":0.01,"d":0.01},
{"s":29.5,"t":0,"v":0.971,"d":0.875},{"s":29.5,"t":5,"v":0.952,"d":0.86},{"s":29.5,"t":10,"v":0.959,"d":0.865},{"s":29.5,"t":20,"v":0.967,"d":0.875},{"s":29.5,"t":30,"v":0.961,"d":0.87},{"s":29.5,"t":40,"v":0.952,"d":0.86},{"s":29.5,"t":45,"v":0.934,"d":0.845},{"s":29.5,"t":50,"v":0.969,"d":0.88},{"s":29.5,"t":55,"v":0.94,"d":0.85},{"s":29.5,"t":60,"v":0.969,"d":0.88},{"s":29.5,"t":70,"v":0.961,"d":0.87},{"s":29.5,"t":80,"v":0.967,"d":0.875},{"s":29.5,"t":90,"v":0.975,"d":0.885},{"s":29.5,"t":100,"v":0.949,"d":0.86},{"s":29.5,"t":110,"v":0.963,"d":0.875},{"s":29.5,"t":120,"v":0.949,"d":0.86},{"s":29.5,"t":130,"v":0.967,"d":0.875},{"s":29.5,"t":140,"v":0.926,"d":0.84},{"s":29.5,"t":150,"v":0.941,"d":0.855},{"s":29.5,"t":160,"v":0.947,"d":0.86},{"s":29.5,"t":170,"v":0.944,"d":0.86},{"s":29.5,"t":179.5,"v":0.957,"d":0.87},{"s":29.5,"t":180,"v":0.851,"d":0.77},{"s":29.5,"t":190,"v":0.844,"d":0.765},{"s":29.5,"t":200,"v":0.777,"d":0.7},{"s":29.5,"t":205,"v":0.951,"d":0.87},{"s":29.5,"t":210,"v":0.944,"d":0.865},{"s":29.5,"t":220,"v":0.971,"d":0.89},{"s":29.5,"t":230,"v":0.978,"d":0.895},{"s":29.5,"t":240,"v":0.949,"d":0.87},{"s":29.5,"t":250,"v":0.955,"d":0.875},{"s":29.5,"t":260,"v":0.943,"d":0.865},{"s":29.5,"t":270,"v":0.951,"d":0.87},{"s":29.5,"t":280,"v":0.93,"d":0.85},{"s":29.5,"t":290,"v":0.936,"d":0.855},{"s":29.5,"t":300,"v":0.939,"d":0.86},{"s":29.5,"t":310,"v":0.898,"d":0.82},{"s":29.5,"t":320,"v":0.93,"d":0.85},{"s":29.5,"t":330,"v":0.893,"d":0.815},{"s":29.5,"t":340,"v":0.881,"d":0.8},{"s":29.5,"t":350,"v":0.91,"d":0.83},{"s":29.5,"t":359.5,"v":0.914,"d":0.835},{"s":29.5,"t":360,"v":0.701,"d":0.65},{"s":29.5,"t":370,"v":0.652,"d":0.605},{"s":29.5,"t":380,"v":0.674,"d":0.625},{"s":29.5,"t":390,"v":0.648,"d":0.6},{"s":29.5,"t":395,"v":0.559,"d":0.515},{"s":29.5,"t":400,"v":0.559,"d":0.515},{"s":29.5,"t":405,"v":0.533,"d":0.49},{"s":29.5,"t":410,"v":0.748,"d":0.7},{"s":29.5,"t":420,"v":0.858,"d":0.81},{"s":29.5,"t":430,"v":0.791,"d":0.745},{"s":29.5,"t":435,"v":0.689,"d":0.64},{"s":29.5,"t":440,"v":0.884,"d":0.835},{"s":29.5,"t":450,"v":0.908,"d":0.86},{"s":29.5,"t":460,"v":0.813,"d":0.765},{"s":29.5,"t":470,"v":0.705,"d":0.66},{"s":29.5,"t":480,"v":0.676,"d":0.63},{"s":29.5,"t":490,"v":0.67,"d":0.625},{"s":29.5,"t":500,"v":0.611,"d":0.57},{"s":29.5,"t":505,"v":0.543,"d":0.5},{"s":29.5,"t":510,"v":0.621,"d":0.58},{"s":29.5,"t":520,"v":0.631,"d":0.59},{"s":29.5,"t":530,"v":0.639,"d":0.595},{"s":29.5,"t":539.5,"v":0.711,"d":0.66},{"s":29.5,"t":540,"v":0.01,"d":0.01},{"s":29.5,"t":545,"v":0.354,"d":0.33},{"s":29.5,"t":550,"v":0.254,"d":0.235},{"s":29.5,"t":555,"v":0.148,"d":0.138},{"s":29.5,"t":560,"v":0.107,"d":0.1},{"s":29.5,"t":565,"v":0.092,"d":0.086},{"s":29.5,"t":570,"v":0.015,"d":0.014},{"s":29.5,"t":575,"v":0.01,"d":0.01},{"s":29.5,"t":975,"v":0.01,"d":0.01},
{"s":34.5,"t":0,"v":0.926,"d":0.845},{"s":34.5,"t":5,"v":0.926,"d":0.845},{"s":34.5,"t":10,"v":0.925,"d":0.84},{"s":34.5,"t":20,"v":0.902,"d":0.82},{"s":34.5,"t":30,"v":0.87,"d":0.79},{"s":34.5,"t":40,"v":0.862,"d":0.78},{"s":34.5,"t":45,"v":0.828,"d":0.75},{"s":34.5,"t":50,"v":0.869,"d":0.79},{"s":34.5,"t":55,"v":0.818,"d":0.74},{"s":34.5,"t":60,"v":0.892,"d":0.815},{"s":34.5,"t":70,"v":0.881,"d":0.805},{"s":34.5,"t":80,"v":0.861,"d":0.785},{"s":34.5,"t":90,"v":0.881,"d":0.805},{"s":34.5,"t":100,"v":0.873,"d":0.795},{"s":34.5,"t":110,"v":0.885,"d":0.805},{"s":34.5,"t":120,"v":0.843,"d":0.765},{"s":34.5,"t":130,"v":0.865,"d":0.79},{"s":34.5,"t":140,"v":0.809,"d":0.735},{"s":34.5,"t":150,"v":0.824,"d":0.75},{"s":34.5,"t":160,"v":0.813,"d":0.74},{"s":34.5,"t":170,"v":0.813,"d":0.74},{"s":34.5,"t":175,"v":0.789,"d":0.715},{"s":34.5,"t":179.5,"v":0.805,"d":0.72},{"s":34.5,"t":180,"v":0.66,"d":0.6},{"s":34.5,"t":190,"v":0.66,"d":0.6},{"s":34.5,"t":200,"v":0.527,"d":0.48},{"s":34.5,"t":205,"v":0.814,"d":0.75},{"s":34.5,"t":210,"v":0.814,"d":0.75},{"s":34.5,"t":220,"v":0.867,"d":0.8},{"s":34.5,"t":230,"v":0.87,"d":0.8},{"s":34.5,"t":240,"v":0.807,"d":0.74},{"s":34.5,"t":250,"v":0.821,"d":0.755},{"s":34.5,"t":260,"v":0.799,"d":0.73},{"s":34.5,"t":270,"v":0.802,"d":0.735},{"s":34.5,"t":280,"v":0.78,"d":0.71},{"s":34.5,"t":290,"v":0.783,"d":0.715},{"s":34.5,"t":300,"v":0.765,"d":0.695},{"s":34.5,"t":310,"v":0.713,"d":0.645},{"s":34.5,"t":320,"v":0.74,"d":0.67},{"s":34.5,"t":330,"v":0.72,"d":0.65},{"s":34.5,"t":335,"v":0.769,"d":0.7},{"s":34.5,"t":340,"v":0.695,"d":0.625},{"s":34.5,"t":350,"v":0.709,"d":0.64},{"s":34.5,"t":355,"v":0.744,"d":0.675},{"s":34.5,"t":359.5,"v":0.739,"d":0.67},{"s":34.5,"t":360,"v":0.434,"d":0.395},{"s":34.5,"t":370,"v":0.384,"d":0.35},{"s":34.5,"t":380,"v":0.384,"d":0.35},{"s":34.5,"t":390,"v":0.369,"d":0.335},{"s":34.5,"t":395,"v":0.303,"d":0.27},{"s":34.5,"t":400,"v":0.297,"d":0.265},{"s":34.5,"t":405,"v":0.283,"d":0.25},{"s":34.5,"t":410,"v":0.475,"d":0.44},{"s":34.5,"t":420,"v":0.605,"d":0.565},{"s":34.5,"t":430,"v":0.541,"d":0.5},{"s":34.5,"t":435,"v":0.428,"d":0.39},{"s":34.5,"t":440,"v":0.656,"d":0.615},{"s":34.5,"t":450,"v":0.678,"d":0.635},{"s":34.5,"t":460,"v":0.548,"d":0.51},{"s":34.5,"t":470,"v":0.452,"d":0.415},{"s":34.5,"t":480,"v":0.452,"d":0.415},{"s":34.5,"t":490,"v":0.414,"d":0.38},{"s":34.5,"t":500,"v":0.352,"d":0.32},{"s":34.5,"t":505,"v":0.262,"d":0.235},{"s":34.5,"t":510,"v":0.328,"d":0.3},{"s":34.5,"t":520,"v":0.365,"d":0.335},{"s":34.5,"t":530,"v":0.357,"d":0.325},{"s":34.5,"t":539.5,"v":0.434,"d":0.395},{"s":34.5,"t":540,"v":0.01,"d":0.01},{"s":34.5,"t":545,"v":0.092,"d":0.085},{"s":34.5,"t":550,"v":0.041,"d":0.038},{"s":34.5,"t":555,"v":0.02,"d":0.018},{"s":34.5,"t":560,"v":0.01,"d":0.01},{"s":34.5,"t":975,"v":0.01,"d":0.01},
{"s":39.5,"t":0,"v":0.799,"d":0.73},{"s":39.5,"t":5,"v":0.843,"d":0.77},{"s":39.5,"t":10,"v":0.818,"d":0.745},{"s":39.5,"t":20,"v":0.765,"d":0.695},{"s":39.5,"t":30,"v":0.687,"d":0.62},{"s":39.5,"t":40,"v":0.672,"d":0.605},{"s":39.5,"t":50,"v":0.682,"d":0.615},{"s":39.5,"t":55,"v":0.619,"d":0.555},{"s":39.5,"t":60,"v":0.744,"d":0.675},{"s":39.5,"t":70,"v":0.717,"d":0.65},{"s":39.5,"t":80,"v":0.68,"d":0.615},{"s":39.5,"t":90,"v":0.723,"d":0.655},{"s":39.5,"t":100,"v":0.697,"d":0.63},{"s":39.5,"t":110,"v":0.719,"d":0.65},{"s":39.5,"t":120,"v":0.676,"d":0.61},{"s":39.5,"t":130,"v":0.697,"d":0.63},{"s":39.5,"t":140,"v":0.63,"d":0.565},{"s":39.5,"t":150,"v":0.631,"d":0.565},{"s":39.5,"t":160,"v":0.62,"d":0.555},{"s":39.5,"t":170,"v":0.58,"d":0.52},{"s":39.5,"t":175,"v":0.611,"d":0.545},{"s":39.5,"t":179.5,"v":0.584,"d":0.51},{"s":39.5,"t":180,"v":0.425,"d":0.38},{"s":39.5,"t":190,"v":0.414,"d":0.37},{"s":39.5,"t":200,"v":0.311,"d":0.28},{"s":39.5,"t":205,"v":0.6,"d":0.55},{"s":39.5,"t":210,"v":0.643,"d":0.59},{"s":39.5,"t":215,"v":0.586,"d":0.535},{"s":39.5,"t":220,"v":0.709,"d":0.655},{"s":39.5,"t":230,"v":0.705,"d":0.65},{"s":39.5,"t":240,"v":0.605,"d":0.555},{"s":39.5,"t":250,"v":0.623,"d":0.57},{"s":39.5,"t":260,"v":0.584,"d":0.535},{"s":39.5,"t":270,"v":0.607,"d":0.555},{"s":39.5,"t":280,"v":0.584,"d":0.535},{"s":39.5,"t":290,"v":0.574,"d":0.525},{"s":39.5,"t":300,"v":0.545,"d":0.5},{"s":39.5,"t":310,"v":0.512,"d":0.47},{"s":39.5,"t":320,"v":0.516,"d":0.475},{"s":39.5,"t":330,"v":0.504,"d":0.46},{"s":39.5,"t":335,"v":0.533,"d":0.49},{"s":39.5,"t":340,"v":0.466,"d":0.425},{"s":39.5,"t":350,"v":0.481,"d":0.44},{"s":39.5,"t":355,"v":0.518,"d":0.475},{"s":39.5,"t":359.5,"v":0.507,"d":0.46},{"s":39.5,"t":360,"v":0.225,"d":0.21},{"s":39.5,"t":370,"v":0.202,"d":0.185},{"s":39.5,"t":380,"v":0.17,"d":0.155},{"s":39.5,"t":390,"v":0.143,"d":0.13},{"s":39.5,"t":400,"v":0.133,"d":0.12},{"s":39.5,"t":405,"v":0.107,"d":0.097},{"s":39.5,"t":410,"v":0.238,"d":0.22},{"s":39.5,"t":420,"v":0.358,"d":0.335},{"s":39.5,"t":430,"v":0.285,"d":0.265},{"s":39.5,"t":435,"v":0.217,"d":0.2},{"s":39.5,"t":440,"v":0.398,"d":0.375},{"s":39.5,"t":450,"v":0.392,"d":0.37},{"s":39.5,"t":460,"v":0.305,"d":0.285},{"s":39.5,"t":470,"v":0.248,"d":0.23},{"s":39.5,"t":480,"v":0.217,"d":0.2},{"s":39.5,"t":490,"v":0.215,"d":0.198},{"s":39.5,"t":500,"v":0.168,"d":0.155},{"s":39.5,"t":505,"v":0.098,"d":0.09},{"s":39.5,"t":510,"v":0.135,"d":0.125},{"s":39.5,"t":520,"v":0.152,"d":0.14},{"s":39.5,"t":530,"v":0.149,"d":0.137},{"s":39.5,"t":539.5,"v":0.201,"d":0.185},{"s":39.5,"t":540,"v":0.01,"d":0.01},{"s":39.5,"t":975,"v":0.01,"d":0.01},
{"s":44.5,"t":0,"v":0.611,"d":0.55},{"s":44.5,"t":5,"v":0.697,"d":0.643},{"s":44.5,"t":10,"v":0.639,"d":0.585},{"s":44.5,"t":20,"v":0.57,"d":0.515},{"s":44.5,"t":30,"v":0.498,"d":0.45},{"s":44.5,"t":40,"v":0.461,"d":0.415},{"s":44.5,"t":50,"v":0.444,"d":0.4},{"s":44.5,"t":55,"v":0.406,"d":0.365},{"s":44.5,"t":60,"v":0.539,"d":0.49},{"s":44.5,"t":70,"v":0.507,"d":0.46},{"s":44.5,"t":80,"v":0.493,"d":0.445},{"s":44.5,"t":90,"v":0.507,"d":0.46},{"s":44.5,"t":100,"v":0.508,"d":0.46},{"s":44.5,"t":110,"v":0.547,"d":0.5},{"s":44.5,"t":120,"v":0.488,"d":0.44},{"s":44.5,"t":130,"v":0.512,"d":0.465},{"s":44.5,"t":140,"v":0.443,"d":0.4},{"s":44.5,"t":150,"v":0.42,"d":0.38},{"s":44.5,"t":160,"v":0.398,"d":0.36},{"s":44.5,"t":170,"v":0.402,"d":0.365},{"s":44.5,"t":179.5,"v":0.352,"d":0.31},{"s":44.5,"t":180,"v":0.258,"d":0.235},{"s":44.5,"t":190,"v":0.246,"d":0.22},{"s":44.5,"t":200,"v":0.156,"d":0.14},{"s":44.5,"t":205,"v":0.385,"d":0.35},{"s":44.5,"t":210,"v":0.444,"d":0.41},{"s":44.5,"t":215,"v":0.377,"d":0.345},{"s":44.5,"t":220,"v":0.525,"d":0.485},{"s":44.5,"t":230,"v":0.493,"d":0.455},{"s":44.5,"t":240,"v":0.393,"d":0.36},{"s":44.5,"t":245,"v":0.452,"d":0.415},{"s":44.5,"t":250,"v":0.41,"d":0.375},{"s":44.5,"t":260,"v":0.384,"d":0.35},{"s":44.5,"t":270,"v":0.365,"d":0.335},{"s":44.5,"t":280,"v":0.387,"d":0.355},{"s":44.5,"t":290,"v":0.357,"d":0.325},{"s":44.5,"t":300,"v":0.338,"d":0.305},{"s":44.5,"t":310,"v":0.311,"d":0.28},{"s":44.5,"t":320,"v":0.311,"d":0.28},{"s":44.5,"t":330,"v":0.318,"d":0.29},{"s":44.5,"t":340,"v":0.275,"d":0.25},{"s":44.5,"t":350,"v":0.283,"d":0.255},{"s":44.5,"t":355,"v":0.316,"d":0.29},{"s":44.5,"t":359.5,"v":0.313,"d":0.285},{"s":44.5,"t":360,"v":0.09,"d":0.085},{"s":44.5,"t":370,"v":0.064,"d":0.06},{"s":44.5,"t":380,"v":0.061,"d":0.057},{"s":44.5,"t":390,"v":0.043,"d":0.04},{"s":44.5,"t":405,"v":0.026,"d":0.024},{"s":44.5,"t":410,"v":0.098,"d":0.092},{"s":44.5,"t":420,"v":0.166,"d":0.155},{"s":44.5,"t":430,"v":0.105,"d":0.098},{"s":44.5,"t":440,"v":0.18,"d":0.17},{"s":44.5,"t":450,"v":0.198,"d":0.188},{"s":44.5,"t":460,"v":0.138,"d":0.13},{"s":44.5,"t":470,"v":0.123,"d":0.115},{"s":44.5,"t":480,"v":0.1,"d":0.094},{"s":44.5,"t":490,"v":0.094,"d":0.088},{"s":44.5,"t":500,"v":0.049,"d":0.045},{"s":44.5,"t":505,"v":0.029,"d":0.027},{"s":44.5,"t":510,"v":0.043,"d":0.04},{"s":44.5,"t":520,"v":0.057,"d":0.053},{"s":44.5,"t":530,"v":0.041,"d":0.038},{"s":44.5,"t":539.5,"v":0.07,"d":0.065},{"s":44.5,"t":540,"v":0.01,"d":0.01},{"s":44.5,"t":975,"v":0.01,"d":0.01},
{"s":49.5,"t":0,"v":0.377,"d":0.345},{"s":49.5,"t":5,"v":0.49,"d":0.45},{"s":49.5,"t":10,"v":0.448,"d":0.41},{"s":49.5,"t":20,"v":0.365,"d":0.33},{"s":49.5,"t":30,"v":0.285,"d":0.255},{"s":49.5,"t":40,"v":0.293,"d":0.26},{"s":49.5,"t":50,"v":0.252,"d":0.225},{"s":49.5,"t":55,"v":0.235,"d":0.21},{"s":49.5,"t":60,"v":0.346,"d":0.31},{"s":49.5,"t":70,"v":0.305,"d":0.275},{"s":49.5,"t":80,"v":0.303,"d":0.27},{"s":49.5,"t":90,"v":0.293,"d":0.26},{"s":49.5,"t":100,"v":0.33,"d":0.295},{"s":49.5,"t":110,"v":0.351,"d":0.315},{"s":49.5,"t":120,"v":0.291,"d":0.26},{"s":49.5,"t":130,"v":0.324,"d":0.29},{"s":49.5,"t":140,"v":0.254,"d":0.225},{"s":49.5,"t":150,"v":0.236,"d":0.21},{"s":49.5,"t":160,"v":0.238,"d":0.21},{"s":49.5,"t":170,"v":0.215,"d":0.19},{"s":49.5,"t":179.5,"v":0.207,"d":0.185},{"s":49.5,"t":180,"v":0.121,"d":0.11},{"s":49.5,"t":190,"v":0.116,"d":0.105},{"s":49.5,"t":200,"v":0.074,"d":0.068},{"s":49.5,"t":205,"v":0.205,"d":0.19},{"s":49.5,"t":210,"v":0.277,"d":0.26},{"s":49.5,"t":215,"v":0.198,"d":0.185},{"s":49.5,"t":220,"v":0.32,"d":0.3},{"s":49.5,"t":230,"v":0.311,"d":0.29},{"s":49.5,"t":240,"v":0.225,"d":0.21},{"s":49.5,"t":250,"v":0.24,"d":0.225},{"s":49.5,"t":260,"v":0.22,"d":0.205},{"s":49.5,"t":270,"v":0.193,"d":0.18},{"s":49.5,"t":280,"v":0.197,"d":0.183},{"s":49.5,"t":290,"v":0.202,"d":0.188},{"s":49.5,"t":300,"v":0.182,"d":0.17},{"s":49.5,"t":310,"v":0.152,"d":0.142},{"s":49.5,"t":320,"v":0.172,"d":0.16},{"s":49.5,"t":330,"v":0.17,"d":0.158},{"s":49.5,"t":340,"v":0.172,"d":0.16},{"s":49.5,"t":350,"v":0.156,"d":0.145},{"s":49.5,"t":359.5,"v":0.164,"d":0.152},{"s":49.5,"t":360,"v":0.02,"d":0.018},{"s":49.5,"t":370,"v":0.018,"d":0.016},{"s":49.5,"t":380,"v":0.025,"d":0.022},{"s":49.5,"t":390,"v":0.015,"d":0.013},{"s":49.5,"t":405,"v":0.012,"d":0.011},{"s":49.5,"t":410,"v":0.041,"d":0.038},{"s":49.5,"t":420,"v":0.064,"d":0.06},{"s":49.5,"t":430,"v":0.039,"d":0.036},{"s":49.5,"t":440,"v":0.057,"d":0.053},{"s":49.5,"t":450,"v":0.071,"d":0.066},{"s":49.5,"t":460,"v":0.055,"d":0.05},{"s":49.5,"t":470,"v":0.05,"d":0.046},{"s":49.5,"t":480,"v":0.04,"d":0.037},{"s":49.5,"t":490,"v":0.034,"d":0.031},{"s":49.5,"t":500,"v":0.02,"d":0.018},{"s":49.5,"t":510,"v":0.012,"d":0.011},{"s":49.5,"t":539.5,"v":0.02,"d":0.018},{"s":49.5,"t":540,"v":0.01,"d":0.01},{"s":49.5,"t":975,"v":0.01,"d":0.01}
],
"cnt":[
{"l":"TF","t":0,"c":0},{"l":"TF","t":5,"c":0},{"l":"TF","t":10,"c":1},{"l":"TF","t":135,"c":1},{"l":"TF","t":140,"c":2},{"l":"TF","t":170,"c":2},{"l":"TF","t":175,"c":3},{"l":"TF","t":179.5,"c":4},{"l":"TF","t":180,"c":0},{"l":"TF","t":200,"c":0},{"l":"TF","t":205,"c":1},{"l":"TF","t":215,"c":1},{"l":"TF","t":220,"c":2},{"l":"TF","t":230,"c":2},{"l":"TF","t":235,"c":3},{"l":"TF","t":245,"c":3},{"l":"TF","t":250,"c":4},{"l":"TF","t":255,"c":4},{"l":"TF","t":260,"c":5},{"l":"TF","t":325,"c":5},{"l":"TF","t":330,"c":6},{"l":"TF","t":335,"c":6},{"l":"TF","t":340,"c":7},{"l":"TF","t":345,"c":8},{"l":"TF","t":355,"c":8},{"l":"TF","t":359.5,"c":9},{"l":"TF","t":360,"c":0},{"l":"TF","t":390,"c":0},{"l":"TF","t":395,"c":1},{"l":"TF","t":400,"c":1},{"l":"TF","t":405,"c":2},{"l":"TF","t":412,"c":3},{"l":"TF","t":418,"c":4},{"l":"TF","t":425,"c":5},{"l":"TF","t":430,"c":6},{"l":"TF","t":437,"c":7},{"l":"TF","t":470,"c":7},{"l":"TF","t":476,"c":8},{"l":"TF","t":480,"c":9},{"l":"TF","t":485,"c":11},{"l":"TF","t":495,"c":11},{"l":"TF","t":500,"c":12},{"l":"TF","t":505,"c":13},{"l":"TF","t":510,"c":13},{"l":"TF","t":514,"c":14},{"l":"TF","t":530,"c":14},{"l":"TF","t":533,"c":15},{"l":"TF","t":539.5,"c":15},{"l":"TF","t":540,"c":0},{"l":"TF","t":560,"c":0},{"l":"TF","t":565,"c":1},{"l":"TF","t":570,"c":1},{"l":"TF","t":575,"c":2},{"l":"TF","t":588,"c":2},{"l":"TF","t":594,"c":4},{"l":"TF","t":600,"c":6},{"l":"TF","t":605,"c":8},{"l":"TF","t":611,"c":9},{"l":"TF","t":618,"c":10},{"l":"TF","t":639,"c":10},{"l":"TF","t":647,"c":13},{"l":"TF","t":654,"c":16},{"l":"TF","t":660,"c":16},{"l":"TF","t":666,"c":18},{"l":"TF","t":672,"c":18},{"l":"TF","t":679,"c":24},{"l":"TF","t":685,"c":25},{"l":"TF","t":692,"c":26},{"l":"TF","t":698,"c":29},{"l":"TF","t":713,"c":29},{"l":"TF","t":719.5,"c":30},{"l":"TF","t":720,"c":0},{"l":"TF","t":733,"c":0},{"l":"TF","t":739,"c":1},{"l":"TF","t":747,"c":2},{"l":"TF","t":773,"c":2},{"l":"TF","t":779,"c":4},{"l":"TF","t":785,"c":6},{"l":"TF","t":794,"c":14},{"l":"TF","t":802,"c":16},{"l":"TF","t":809,"c":17},{"l":"TF","t":819,"c":25},{"l":"TF","t":825,"c":25},{"l":"TF","t":830,"c":27},{"l":"TF","t":838,"c":32},{"l":"TF","t":844,"c":32},{"l":"TF","t":849,"c":33},{"l":"TF","t":855,"c":33},{"l":"TF","t":865,"c":35},{"l":"TF","t":874,"c":35},{"l":"TF","t":880,"c":36},{"l":"TF","t":885,"c":38},{"l":"TF","t":891,"c":38},{"l":"TF","t":899.5,"c":46},{"l":"TF","t":900,"c":0},{"l":"TF","t":904,"c":0},{"l":"TF","t":910,"c":1},{"l":"TF","t":918,"c":3},{"l":"TF","t":923,"c":5},{"l":"TF","t":929,"c":7},{"l":"TF","t":935,"c":11},{"l":"TF","t":938,"c":12},{"l":"TF","t":946,"c":12},{"l":"TF","t":954,"c":14},{"l":"TF","t":959,"c":18},{"l":"TF","t":969,"c":20},{"l":"TF","t":975,"c":24},
{"l":"TK","t":0,"c":0},{"l":"TK","t":15,"c":0},{"l":"TK","t":20,"c":1},{"l":"TK","t":55,"c":1},{"l":"TK","t":60,"c":4},{"l":"TK","t":85,"c":4},{"l":"TK","t":90,"c":6},{"l":"TK","t":95,"c":6},{"l":"TK","t":100,"c":8},{"l":"TK","t":125,"c":8},{"l":"TK","t":130,"c":10},{"l":"TK","t":135,"c":11},{"l":"TK","t":160,"c":11},{"l":"TK","t":165,"c":12},{"l":"TK","t":172,"c":12},{"l":"TK","t":175,"c":13},{"l":"TK","t":179.5,"c":15},{"l":"TK","t":180,"c":0},{"l":"TK","t":190,"c":0},{"l":"TK","t":195,"c":1},{"l":"TK","t":200,"c":1},{"l":"TK","t":204,"c":3},{"l":"TK","t":215,"c":3},{"l":"TK","t":220,"c":5},{"l":"TK","t":226,"c":5},{"l":"TK","t":231,"c":6},{"l":"TK","t":240,"c":6},{"l":"TK","t":245,"c":7},{"l":"TK","t":270,"c":7},{"l":"TK","t":274,"c":8},{"l":"TK","t":279,"c":10},{"l":"TK","t":316,"c":10},{"l":"TK","t":321,"c":12},{"l":"TK","t":346,"c":12},{"l":"TK","t":350,"c":13},{"l":"TK","t":356,"c":14},{"l":"TK","t":359.5,"c":16},{"l":"TK","t":360,"c":0},{"l":"TK","t":405,"c":0},{"l":"TK","t":415,"c":4},{"l":"TK","t":430,"c":4},{"l":"TK","t":434,"c":5},{"l":"TK","t":438,"c":9},{"l":"TK","t":470,"c":9},{"l":"TK","t":476,"c":11},{"l":"TK","t":482,"c":12},{"l":"TK","t":486,"c":12},{"l":"TK","t":491,"c":14},{"l":"TK","t":504,"c":14},{"l":"TK","t":510,"c":15},{"l":"TK","t":515,"c":17},{"l":"TK","t":518,"c":18},{"l":"TK","t":535,"c":18},{"l":"TK","t":539.5,"c":19},{"l":"TK","t":540,"c":0},{"l":"TK","t":590,"c":0},{"l":"TK","t":594,"c":1},{"l":"TK","t":618,"c":1},{"l":"TK","t":624,"c":2},{"l":"TK","t":630,"c":2},{"l":"TK","t":635,"c":3},{"l":"TK","t":647,"c":3},{"l":"TK","t":654,"c":5},{"l":"TK","t":688,"c":5},{"l":"TK","t":696,"c":6},{"l":"TK","t":703,"c":9},{"l":"TK","t":719.5,"c":9},{"l":"TK","t":720,"c":0},{"l":"TK","t":730,"c":0},{"l":"TK","t":736,"c":2},{"l":"TK","t":751,"c":2},{"l":"TK","t":757,"c":4},{"l":"TK","t":774,"c":4},{"l":"TK","t":779,"c":5},{"l":"TK","t":785,"c":7},{"l":"TK","t":794,"c":11},{"l":"TK","t":800,"c":11},{"l":"TK","t":806,"c":13},{"l":"TK","t":810,"c":15},{"l":"TK","t":821,"c":15},{"l":"TK","t":827,"c":20},{"l":"TK","t":836,"c":20},{"l":"TK","t":840,"c":22},{"l":"TK","t":848,"c":24},{"l":"TK","t":863,"c":24},{"l":"TK","t":870,"c":25},{"l":"TK","t":876,"c":25},{"l":"TK","t":884,"c":26},{"l":"TK","t":891,"c":27},{"l":"TK","t":899.5,"c":28},{"l":"TK","t":900,"c":0},{"l":"TK","t":914,"c":0},{"l":"TK","t":920,"c":2},{"l":"TK","t":927,"c":5},{"l":"TK","t":933,"c":5},{"l":"TK","t":938,"c":6},{"l":"TK","t":948,"c":6},{"l":"TK","t":954,"c":7},{"l":"TK","t":958,"c":7},{"l":"TK","t":963,"c":8},{"l":"TK","t":969,"c":9},{"l":"TK","t":975,"c":9},
{"l":"PF","t":0,"c":40.8},{"l":"PF","t":4,"c":37.5},{"l":"PF","t":9,"c":37.8},{"l":"PF","t":15,"c":40.4},{"l":"PF","t":20,"c":42.5},{"l":"PF","t":26,"c":42.3},{"l":"PF","t":34,"c":44.3},{"l":"PF","t":45,"c":45},{"l":"PF","t":60,"c":45.5},{"l":"PF","t":80,"c":45},{"l":"PF","t":100,"c":45.5},{"l":"PF","t":120,"c":45.7},{"l":"PF","t":136,"c":45.7},{"l":"PF","t":144,"c":46.9},{"l":"PF","t":152,"c":46.2},{"l":"PF","t":160,"c":46.4},{"l":"PF","t":167,"c":46},{"l":"PF","t":179.5,"c":45.1},{"l":"PF","t":180,"c":43},{"l":"PF","t":187,"c":44.6},{"l":"PF","t":195,"c":43.8},{"l":"PF","t":200,"c":43.6},{"l":"PF","t":206,"c":45.4},{"l":"PF","t":212,"c":44.6},{"l":"PF","t":220,"c":44},{"l":"PF","t":228,"c":44.2},{"l":"PF","t":234,"c":44},{"l":"PF","t":242,"c":43.6},{"l":"PF","t":250,"c":44.6},{"l":"PF","t":256,"c":44.9},{"l":"PF","t":263,"c":44.2},{"l":"PF","t":276,"c":43.8},{"l":"PF","t":291,"c":42.5},{"l":"PF","t":307,"c":43},{"l":"PF","t":316,"c":43},{"l":"PF","t":326,"c":42.8},{"l":"PF","t":335,"c":42.7},{"l":"PF","t":343,"c":43.4},{"l":"PF","t":353,"c":42.8},{"l":"PF","t":359.5,"c":42.3},{"l":"PF","t":360,"c":36.7},{"l":"PF","t":372,"c":36.6},{"l":"PF","t":385,"c":35.2},{"l":"PF","t":392,"c":34.3},{"l":"PF","t":400,"c":35.2},{"l":"PF","t":406,"c":36.1},{"l":"PF","t":416,"c":40.1},{"l":"PF","t":425,"c":40.3},{"l":"PF","t":431,"c":39.9},{"l":"PF","t":440,"c":39.7},{"l":"PF","t":450,"c":38.4},{"l":"PF","t":459,"c":37.5},{"l":"PF","t":467,"c":39.5},{"l":"PF","t":474,"c":38.6},{"l":"PF","t":484,"c":37.5},{"l":"PF","t":495,"c":37.1},{"l":"PF","t":505,"c":35},{"l":"PF","t":518,"c":34.9},{"l":"PF","t":529,"c":34.6},{"l":"PF","t":539.5,"c":36},{"l":"PF","t":540,"c":31.1},{"l":"PF","t":546,"c":31.7},{"l":"PF","t":552,"c":29.6},{"l":"PF","t":558,"c":29.9},{"l":"PF","t":565,"c":28.7},{"l":"PF","t":575,"c":29.3},{"l":"PF","t":582,"c":27.4},{"l":"PF","t":590,"c":24.8},{"l":"PF","t":599,"c":22.9},{"l":"PF","t":609,"c":21.4},{"l":"PF","t":618,"c":20.3},{"l":"PF","t":628,"c":19.7},{"l":"PF","t":637,"c":19},{"l":"PF","t":647,"c":18.1},{"l":"PF","t":656,"c":18.2},{"l":"PF","t":666,"c":18.2},{"l":"PF","t":672,"c":18.3},{"l":"PF","t":679,"c":24},{"l":"PF","t":685,"c":25},{"l":"PF","t":692,"c":26.4},{"l":"PF","t":698,"c":29.3},{"l":"PF","t":717,"c":29.3},{"l":"PF","t":720,"c":2.5},{"l":"PF","t":720.5,"c":30},{"l":"PF","t":975,"c":30},
{"l":"PK","t":0,"c":43.4},{"l":"PK","t":5,"c":44},{"l":"PK","t":12,"c":43.4},{"l":"PK","t":20,"c":42.3},{"l":"PK","t":27,"c":41.2},{"l":"PK","t":35,"c":41},{"l":"PK","t":43,"c":40.1},{"l":"PK","t":52,"c":39.9},{"l":"PK","t":58,"c":41.9},{"l":"PK","t":66,"c":41.4},{"l":"PK","t":74,"c":41.3},{"l":"PK","t":89,"c":41.6},{"l":"PK","t":105,"c":41.6},{"l":"PK","t":110,"c":42.1},{"l":"PK","t":117,"c":40.7},{"l":"PK","t":124,"c":40.8},{"l":"PK","t":131,"c":41.8},{"l":"PK","t":139,"c":39.9},{"l":"PK","t":148,"c":40.1},{"l":"PK","t":156,"c":40.3},{"l":"PK","t":164,"c":39.9},{"l":"PK","t":172,"c":39.6},{"l":"PK","t":179.5,"c":39.1},{"l":"PK","t":180,"c":37.1},{"l":"PK","t":186,"c":36.3},{"l":"PK","t":192,"c":35.2},{"l":"PK","t":198,"c":33.7},{"l":"PK","t":203,"c":36.7},{"l":"PK","t":208,"c":39.7},{"l":"PK","t":214,"c":40.3},{"l":"PK","t":220,"c":42.3},{"l":"PK","t":226,"c":41.9},{"l":"PK","t":232,"c":42.3},{"l":"PK","t":240,"c":40.4},{"l":"PK","t":248,"c":41},{"l":"PK","t":256,"c":40.6},{"l":"PK","t":263,"c":39.9},{"l":"PK","t":273,"c":39.7},{"l":"PK","t":285,"c":39.6},{"l":"PK","t":294,"c":39},{"l":"PK","t":304,"c":39.1},{"l":"PK","t":310,"c":38.2},{"l":"PK","t":319,"c":38.6},{"l":"PK","t":330,"c":38.6},{"l":"PK","t":336,"c":39.3},{"l":"PK","t":344,"c":38.4},{"l":"PK","t":353,"c":38.7},{"l":"PK","t":359.5,"c":38.4},{"l":"PK","t":360,"c":32.2},{"l":"PK","t":372,"c":31.6},{"l":"PK","t":383,"c":31.5},{"l":"PK","t":391,"c":30.7},{"l":"PK","t":398,"c":29.9},{"l":"PK","t":406,"c":30},{"l":"PK","t":412,"c":33.7},{"l":"PK","t":422,"c":35.6},{"l":"PK","t":431,"c":33.5},{"l":"PK","t":440,"c":36.7},{"l":"PK","t":450,"c":37.3},{"l":"PK","t":459,"c":35.2},{"l":"PK","t":467,"c":33.1},{"l":"PK","t":476,"c":32.4},{"l":"PK","t":486,"c":32.4},{"l":"PK","t":495,"c":31.9},{"l":"PK","t":505,"c":30.7},{"l":"PK","t":510,"c":31.3},{"l":"PK","t":522,"c":31.5},{"l":"PK","t":531,"c":31.9},{"l":"PK","t":539.5,"c":32.4},{"l":"PK","t":540,"c":30.4},{"l":"PK","t":544,"c":33},{"l":"PK","t":552,"c":27.4},{"l":"PK","t":561,"c":25.1},{"l":"PK","t":569,"c":19.7},{"l":"PK","t":578,"c":18.8},{"l":"PK","t":588,"c":17.3},{"l":"PK","t":597,"c":15.1},{"l":"PK","t":607,"c":13.7},{"l":"PK","t":616,"c":13},{"l":"PK","t":626,"c":12.7},{"l":"PK","t":635,"c":11.5},{"l":"PK","t":645,"c":10.6},{"l":"PK","t":654,"c":9.7},{"l":"PK","t":664,"c":8.5},{"l":"PK","t":673,"c":7.5},{"l":"PK","t":683,"c":6.5},{"l":"PK","t":690,"c":5.7},{"l":"PK","t":696,"c":6.1},{"l":"PK","t":703,"c":9.1},{"l":"PK","t":717,"c":9},{"l":"PK","t":720,"c":2.5},{"l":"PK","t":720.5,"c":9},{"l":"PK","t":975,"c":9}
],
"bnd":[
{"l":"PF","t":0,"lo":26.1,"hi":50},{"l":"PF","t":6,"lo":20.9,"hi":53},{"l":"PF","t":12,"lo":22.5,"hi":55},{"l":"PF","t":20,"lo":26.3,"hi":56.5},{"l":"PF","t":27,"lo":28,"hi":57.5},{"l":"PF","t":35,"lo":29.6,"hi":58},{"l":"PF","t":43,"lo":27.4,"hi":58},{"l":"PF","t":51,"lo":30.4,"hi":58.5},{"l":"PF","t":58,"lo":27.4,"hi":59},{"l":"PF","t":66,"lo":29.3,"hi":59},{"l":"PF","t":74,"lo":28.9,"hi":59},{"l":"PF","t":89,"lo":29.6,"hi":59.5},{"l":"PF","t":105,"lo":28.9,"hi":60},{"l":"PF","t":114,"lo":28.7,"hi":60},{"l":"PF","t":128,"lo":30.4,"hi":61},{"l":"PF","t":133,"lo":29,"hi":62.1},{"l":"PF","t":136,"lo":28.1,"hi":63.2},{"l":"PF","t":144,"lo":31.5,"hi":63.4},{"l":"PF","t":150,"lo":30.4,"hi":60.6},{"l":"PF","t":161,"lo":32,"hi":60.2},{"l":"PF","t":164,"lo":32.6,"hi":60.2},{"l":"PF","t":172,"lo":30.4,"hi":60.1},{"l":"PF","t":179.5,"lo":30,"hi":60},{"l":"PF","t":180,"lo":29.3,"hi":57.2},{"l":"PF","t":186,"lo":30,"hi":58.7},{"l":"PF","t":192,"lo":30.5,"hi":57.8},{"l":"PF","t":198,"lo":30.7,"hi":59},{"l":"PF","t":206,"lo":30,"hi":58.7},{"l":"PF","t":214,"lo":30.5,"hi":58.4},{"l":"PF","t":220,"lo":30.9,"hi":58.7},{"l":"PF","t":229,"lo":30,"hi":57.5},{"l":"PF","t":232,"lo":29.3,"hi":57.8},{"l":"PF","t":237,"lo":30.5,"hi":58.2},{"l":"PF","t":240,"lo":31.5,"hi":57.5},{"l":"PF","t":243,"lo":30.5,"hi":56.7},{"l":"PF","t":248,"lo":29.6,"hi":56.8},{"l":"PF","t":253,"lo":31,"hi":56.9},{"l":"PF","t":257,"lo":32.2,"hi":56.5},{"l":"PF","t":260,"lo":31.5,"hi":56.1},{"l":"PF","t":267,"lo":30.7,"hi":56},{"l":"PF","t":276,"lo":30,"hi":55.8},{"l":"PF","t":285,"lo":29.3,"hi":55.5},{"l":"PF","t":294,"lo":29.4,"hi":55.2},{"l":"PF","t":304,"lo":30.7,"hi":55.1},{"l":"PF","t":313,"lo":30.7,"hi":55},{"l":"PF","t":322,"lo":31.1,"hi":54.6},{"l":"PF","t":332,"lo":30.9,"hi":54.4},{"l":"PF","t":339,"lo":31.9,"hi":54.4},{"l":"PF","t":347,"lo":30.4,"hi":54.6},{"l":"PF","t":356,"lo":31,"hi":53.9},{"l":"PF","t":359.5,"lo":31.5,"hi":53.5},{"l":"PF","t":360,"lo":26.6,"hi":46.4},{"l":"PF","t":372,"lo":27.2,"hi":46.3},{"l":"PF","t":385,"lo":26.5,"hi":45.7},{"l":"PF","t":391,"lo":25.9,"hi":42.1},{"l":"PF","t":400,"lo":26.8,"hi":43.4},{"l":"PF","t":406,"lo":28,"hi":45.7},{"l":"PF","t":412,"lo":28.9,"hi":48},{"l":"PF","t":416,"lo":29.2,"hi":50.1},{"l":"PF","t":428,"lo":30,"hi":50},{"l":"PF","t":446,"lo":29.6,"hi":47.9},{"l":"PF","t":457,"lo":29.4,"hi":46},{"l":"PF","t":465,"lo":29,"hi":49},{"l":"PF","t":472,"lo":28.7,"hi":47.9},{"l":"PF","t":480,"lo":28.3,"hi":46.4},{"l":"PF","t":491,"lo":28.1,"hi":45.7},{"l":"PF","t":505,"lo":27.8,"hi":44.9},{"l":"PF","t":512,"lo":27.6,"hi":42.7},{"l":"PF","t":522,"lo":27.4,"hi":42.1},{"l":"PF","t":533,"lo":27.8,"hi":42.1},{"l":"PF","t":539.5,"lo":28.5,"hi":43.4},{"l":"PF","t":540,"lo":30.7,"hi":37.1},{"l":"PF","t":548,"lo":28,"hi":35.2},{"l":"PF","t":556,"lo":25.4,"hi":34.1},{"l":"PF","t":563,"lo":23,"hi":35.2},{"l":"PF","t":569,"lo":22.4,"hi":33},{"l":"PF","t":575,"lo":22.2,"hi":34.1},{"l":"PF","t":582,"lo":20.3,"hi":32.2},{"l":"PF","t":592,"lo":18.8,"hi":29.3},{"l":"PF","t":601,"lo":18.3,"hi":27.2},{"l":"PF","t":611,"lo":17.5,"hi":25.5},{"l":"PF","t":620,"lo":16.6,"hi":24.4},{"l":"PF","t":628,"lo":16.2,"hi":23.3},{"l":"PF","t":637,"lo":15.6,"hi":22.5},{"l":"PF","t":647,"lo":15.1,"hi":21.4},{"l":"PF","t":656,"lo":14.9,"hi":20.3},{"l":"PF","t":666,"lo":16.6,"hi":19.4},{"l":"PF","t":672,"lo":18.2,"hi":18.8},
{"l":"PK","t":0,"lo":26.3,"hi":50},{"l":"PK","t":6,"lo":25.5,"hi":51},{"l":"PK","t":12,"lo":25.5,"hi":52},{"l":"PK","t":20,"lo":26.6,"hi":53},{"l":"PK","t":27,"lo":24.8,"hi":53.5},{"l":"PK","t":35,"lo":26.3,"hi":54},{"l":"PK","t":43,"lo":24,"hi":54.5},{"l":"PK","t":51,"lo":25.1,"hi":55},{"l":"PK","t":58,"lo":27.4,"hi":55.5},{"l":"PK","t":66,"lo":25.9,"hi":55.5},{"l":"PK","t":74,"lo":26.3,"hi":56},{"l":"PK","t":82,"lo":25.5,"hi":56},{"l":"PK","t":89,"lo":27.4,"hi":56.5},{"l":"PK","t":97,"lo":26.3,"hi":56.5},{"l":"PK","t":105,"lo":26.6,"hi":57},{"l":"PK","t":114,"lo":25.1,"hi":57},{"l":"PK","t":124,"lo":26.3,"hi":57.5},{"l":"PK","t":133,"lo":25.5,"hi":57.2},{"l":"PK","t":136,"lo":24.8,"hi":56.5},{"l":"PK","t":142,"lo":25.6,"hi":55},{"l":"PK","t":148,"lo":26.4,"hi":54.6},{"l":"PK","t":158,"lo":26.8,"hi":53.9},{"l":"PK","t":164,"lo":27.2,"hi":53.7},{"l":"PK","t":172,"lo":25.9,"hi":53},{"l":"PK","t":179.5,"lo":25.5,"hi":52.4},{"l":"PK","t":180,"lo":26.3,"hi":48.7},{"l":"PK","t":186,"lo":24.8,"hi":49},{"l":"PK","t":192,"lo":23,"hi":47.5},{"l":"PK","t":200,"lo":21.8,"hi":45.7},{"l":"PK","t":206,"lo":27.8,"hi":52.4},{"l":"PK","t":214,"lo":27.2,"hi":54.3},{"l":"PK","t":220,"lo":27.5,"hi":56.5},{"l":"PK","t":226,"lo":27.2,"hi":55.4},{"l":"PK","t":231,"lo":26.6,"hi":56.5},{"l":"PK","t":237,"lo":27,"hi":53.9},{"l":"PK","t":246,"lo":27,"hi":54.6},{"l":"PK","t":251,"lo":26.6,"hi":54.2},{"l":"PK","t":259,"lo":28.9,"hi":53.5},{"l":"PK","t":267,"lo":27.4,"hi":52.4},{"l":"PK","t":279,"lo":27,"hi":52},{"l":"PK","t":291,"lo":26,"hi":51},{"l":"PK","t":294,"lo":25.5,"hi":50.8},{"l":"PK","t":304,"lo":26.6,"hi":50},{"l":"PK","t":316,"lo":27,"hi":50.3},{"l":"PK","t":326,"lo":26.6,"hi":50.1},{"l":"PK","t":338,"lo":27.4,"hi":50.1},{"l":"PK","t":350,"lo":27,"hi":49.9},{"l":"PK","t":359.5,"lo":27.4,"hi":50.1},{"l":"PK","t":360,"lo":23.4,"hi":40.4},{"l":"PK","t":372,"lo":23.3,"hi":40.1},{"l":"PK","t":385,"lo":22.5,"hi":39},{"l":"PK","t":392,"lo":21.4,"hi":38.6},{"l":"PK","t":400,"lo":22.2,"hi":38},{"l":"PK","t":406,"lo":22.6,"hi":37.5},{"l":"PK","t":412,"lo":23,"hi":43.4},{"l":"PK","t":420,"lo":23.4,"hi":44.9},{"l":"PK","t":431,"lo":25.1,"hi":43.4},{"l":"PK","t":436,"lo":22.9,"hi":44},{"l":"PK","t":438,"lo":24,"hi":44.9},{"l":"PK","t":446,"lo":27.8,"hi":45.5},{"l":"PK","t":450,"lo":26.5,"hi":46},{"l":"PK","t":459,"lo":24.5,"hi":44.9},{"l":"PK","t":467,"lo":23.4,"hi":42.3},{"l":"PK","t":476,"lo":23.3,"hi":41.9},{"l":"PK","t":488,"lo":22.9,"hi":41.6},{"l":"PK","t":495,"lo":24,"hi":41.2},{"l":"PK","t":506,"lo":21.8,"hi":37.5},{"l":"PK","t":518,"lo":24,"hi":39},{"l":"PK","t":529,"lo":23.4,"hi":39.3},{"l":"PK","t":539.5,"lo":25.1,"hi":40.3},{"l":"PK","t":540,"lo":20.3,"hi":32.2},{"l":"PK","t":544,"lo":23,"hi":32.4},{"l":"PK","t":552,"lo":21.8,"hi":30},{"l":"PK","t":554,"lo":21.3,"hi":27.8},{"l":"PK","t":561,"lo":19.6,"hi":27.2},{"l":"PK","t":571,"lo":15.1,"hi":23.3},{"l":"PK","t":580,"lo":14,"hi":22.2},{"l":"PK","t":590,"lo":12.8,"hi":20.3},{"l":"PK","t":599,"lo":11.7,"hi":18.4},{"l":"PK","t":609,"lo":10.6,"hi":17.3},{"l":"PK","t":618,"lo":9.9,"hi":16.6},{"l":"PK","t":628,"lo":9.1,"hi":15.8},{"l":"PK","t":637,"lo":8.4,"hi":14.9},{"l":"PK","t":647,"lo":8,"hi":14.3},{"l":"PK","t":658,"lo":7.2,"hi":12.8},{"l":"PK","t":669,"lo":6.5,"hi":10.6},{"l":"PK","t":681,"lo":6,"hi":8.4},{"l":"PK","t":692,"lo":5.7,"hi":6.9},{"l":"PK","t":696,"lo":6.1,"hi":6.1}
]
},
"vconcat":[
{"width":1984,"height":469,
"title":{"text":"SEBASTIAN FUNDORA — Power Strikes Thrown R4 Over Full Fight (Event 16256)"},
"layer":[
{"data":{"name":"rd"},"mark":{"type":"rule","color":"#555555","strokeDash":[2,3],"strokeWidth":1,"opacity":0.8},"encoding":{"x":{"field":"t","type":"quantitative","scale":{"domain":[-48.75,1023.75],"nice":false,"zero":false},"axis":{"values":[0,200,400,600,800,1000],"labels":false,"title":null,"grid":false}}}},
{"data":{"name":"F"},"mark":{"type":"area","opacity":0.1},"encoding":{"x":{"field":"t","type":"quantitative"},"y":{"field":"v","type":"quantitative","stack":null,"scale":{"domain":[0,1.155],"nice":false,"zero":false},"axis":{"values":[0,0.05,0.1,0.15,0.2,0.25,0.3,0.35,0.4,0.45,0.5,0.55,0.6,0.65,0.7,0.75,0.8,0.85,0.9,0.95,1,1.05,1.1,1.15],"tickCount":40,"format":".2f","title":"Prob","titlePadding":12,"grid":true,"labelOverlap":false,"labelBound":false,"labelFlush":false}},"y2":{"field":"d"},"fill":{"field":"s","type":"nominal","scale":{"domain":[4.5,9.5,14.5,19.5,24.5,29.5,34.5,39.5,44.5,49.5],"range":["#e6194b","#3cb44b","#4363d8","#f58231","#911eb4","#42d4f4","#f032e6","#bfef45","#fabed4","#469990"]},"legend":null}}},
{"data":{"name":"F"},"mark":{"type":"line","strokeWidth":1.3,"strokeDash":[1.5,2.5],"opacity":0.75},"encoding":{"x":{"field":"t","type":"quantitative"},"y":{"field":"d","type":"quantitative"},"stroke":{"field":"s","type":"nominal","scale":{"domain":[4.5,9.5,14.5,19.5,24.5,29.5,34.5,39.5,44.5,49.5],"range":["#e6194b","#3cb44b","#4363d8","#f58231","#911eb4","#42d4f4","#f032e6","#bfef45","#fabed4","#469990"]},"legend":null}}},
{"data":{"name":"F"},"mark":{"type":"line","strokeWidth":2,"opacity":0.85},"encoding":{"x":{"field":"t","type":"quantitative"},"y":{"field":"v","type":"quantitative"},"color":{"field":"s","type":"nominal","scale":{"domain":[4.5,19.5,34.5,44.5,9.5,24.5,39.5,49.5,14.5,29.5],"range":["#e6194b","#f58231","#f032e6","#fabed4","#3cb44b","#911eb4","#bfef45","#469990","#4363d8","#42d4f4"]},"legend":{"orient":"none","legendX":1514,"legendY":10,"direction":"horizontal","columns":4,"title":null,"labelExpr":"'over ' + datum.label","symbolType":"stroke","symbolSize":550,"symbolStrokeWidth":2.5,"symbolOpacity":0.85,"labelFontSize":12.2,"labelOffset":9,"columnPadding":21,"rowPadding":0,"padding":5,"fillColor":"rgba(255,255,255,0.8)","strokeColor":"#cccccc","cornerRadius":3}}}},
{"data":{"name":"rd"},"mark":{"type":"text","align":"left","dx":4,"baseline":"middle","fontSize":16,"color":"#555555"},"encoding":{"x":{"field":"t","type":"quantitative"},"y":{"datum":1.09},"text":{"field":"r"}}}
]},
{"width":1984,"height":469,
"title":{"text":"KEITH THURMAN — Power Strikes Thrown R4 Over Full Fight (Event 16256)"},
"layer":[
{"data":{"name":"rd"},"mark":{"type":"rule","color":"#555555","strokeDash":[2,3],"strokeWidth":1,"opacity":0.8},"encoding":{"x":{"field":"t","type":"quantitative","scale":{"domain":[-48.75,1023.75],"nice":false,"zero":false},"axis":{"values":[0,200,400,600,800,1000],"labels":false,"title":null,"grid":false}}}},
{"data":{"name":"K"},"mark":{"type":"area","opacity":0.1},"encoding":{"x":{"field":"t","type":"quantitative"},"y":{"field":"v","type":"quantitative","stack":null,"scale":{"domain":[0,1.155],"nice":false,"zero":false},"axis":{"values":[0,0.05,0.1,0.15,0.2,0.25,0.3,0.35,0.4,0.45,0.5,0.55,0.6,0.65,0.7,0.75,0.8,0.85,0.9,0.95,1,1.05,1.1,1.15],"tickCount":40,"format":".2f","title":"Prob","titlePadding":12,"grid":true,"labelOverlap":false,"labelBound":false,"labelFlush":false}},"y2":{"field":"d"},"fill":{"field":"s","type":"nominal","scale":{"domain":[4.5,9.5,14.5,19.5,24.5,29.5,34.5,39.5,44.5,49.5],"range":["#e6194b","#3cb44b","#4363d8","#f58231","#911eb4","#42d4f4","#f032e6","#bfef45","#fabed4","#469990"]},"legend":null}}},
{"data":{"name":"K"},"mark":{"type":"line","strokeWidth":1.3,"strokeDash":[1.5,2.5],"opacity":0.75},"encoding":{"x":{"field":"t","type":"quantitative"},"y":{"field":"d","type":"quantitative"},"stroke":{"field":"s","type":"nominal","scale":{"domain":[4.5,9.5,14.5,19.5,24.5,29.5,34.5,39.5,44.5,49.5],"range":["#e6194b","#3cb44b","#4363d8","#f58231","#911eb4","#42d4f4","#f032e6","#bfef45","#fabed4","#469990"]},"legend":null}}},
{"data":{"name":"K"},"mark":{"type":"line","strokeWidth":2,"opacity":0.85},"encoding":{"x":{"field":"t","type":"quantitative"},"y":{"field":"v","type":"quantitative"},"color":{"field":"s","type":"nominal","scale":{"domain":[4.5,19.5,34.5,44.5,9.5,24.5,39.5,49.5,14.5,29.5],"range":["#e6194b","#f58231","#f032e6","#fabed4","#3cb44b","#911eb4","#bfef45","#469990","#4363d8","#42d4f4"]},"legend":{"orient":"none","legendX":1514,"legendY":12,"direction":"horizontal","columns":4,"title":null,"labelExpr":"'over ' + datum.label","symbolType":"stroke","symbolSize":550,"symbolStrokeWidth":2.5,"symbolOpacity":0.85,"labelFontSize":12.2,"labelOffset":9,"columnPadding":21,"rowPadding":0,"padding":5,"fillColor":"rgba(255,255,255,0.8)","strokeColor":"#cccccc","cornerRadius":3}}}},
{"data":{"name":"rd"},"mark":{"type":"text","align":"left","dx":4,"baseline":"middle","fontSize":16,"color":"#555555"},"encoding":{"x":{"field":"t","type":"quantitative"},"y":{"datum":1.09},"text":{"field":"r"}}}
]},
{"width":1984,"height":313,
"title":{"text":" ","offset":8},
"layer":[
{"data":{"name":"rd"},"mark":{"type":"rule","color":"#555555","strokeDash":[2,3],"strokeWidth":1,"opacity":0.8},"encoding":{"x":{"field":"t","type":"quantitative","scale":{"domain":[-48.75,1023.75],"nice":false,"zero":false},"axis":{"values":[0,200,400,600,800,1000],"title":"Fight time (seconds)","titleFontSize":20.4,"titlePadding":6,"grid":false,"format":"d"}}}},
{"data":{"name":"bnd"},"mark":{"type":"area","opacity":0.25},"encoding":{"x":{"field":"t","type":"quantitative"},"y":{"field":"hi","type":"quantitative","stack":null,"scale":{"domain":[-3.15,66.15],"nice":false,"zero":false},"axis":{"values":[0,5,10,15,20,25,30,35,40,45,50,55,60,65],"tickCount":40,"labelExpr":"datum.value % 10 === 0 ? datum.label : ''","tickOpacity":{"condition":{"test":"datum.value % 10 === 0","value":1},"value":0},"title":"Count","titlePadding":12,"grid":true}},"y2":{"field":"lo"},"fill":{"field":"l","type":"nominal","scale":{"domain":["PF","PK"],"range":["#ff5c5c","#5c5cff"]},"legend":null}}},
{"data":{"name":"cnt"},"mark":{"type":"line","strokeWidth":2.3,"opacity":0.95},"encoding":{"x":{"field":"t","type":"quantitative"},"y":{"field":"c","type":"quantitative"},"color":{"field":"l","type":"nominal","scale":{"domain":["TF","TK","PF","PK"],"range":["#ff4040","#4343ff","#ff5c5c","#5c5cff"]},"legend":{"orient":"none","legendX":5,"legendY":7,"title":null,"labelExpr":"datum.label == 'TF' ? 'Truth SEBASTIAN FUNDORA: 30' : datum.label == 'TK' ? 'Truth KEITH THURMAN: 9' : datum.label == 'PF' ? 'Predicted SEBASTIAN FUNDORA: 26.9' : 'Predicted KEITH THURMAN: 25.1'","symbolType":"stroke","symbolSize":576,"symbolStrokeWidth":2.5,"labelFontSize":15.4,"labelOffset":5,"labelLimit":600,"rowPadding":0,"padding":6,"fillColor":"rgba(255,255,255,0.8)","strokeColor":"#cccccc","cornerRadius":3}},"strokeDash":{"field":"l","type":"nominal","scale":{"domain":["TF","TK","PF","PK"],"range":[[1,0],[1,0],[2,3.5],[2,3.5]]},"legend":{"orient":"none","legendX":5,"legendY":7,"title":null,"labelLimit":600,"symbolSize":576,"labelFontSize":15.4,"labelOffset":5,"rowPadding":0}}}},
{"data":{"name":"rd"},"mark":{"type":"text","align":"left","dx":4,"baseline":"middle","fontSize":16,"color":"#555555"},"encoding":{"x":{"field":"t","type":"quantitative"},"y":{"datum":62},"text":{"field":"r"}}}
]}
]
}
